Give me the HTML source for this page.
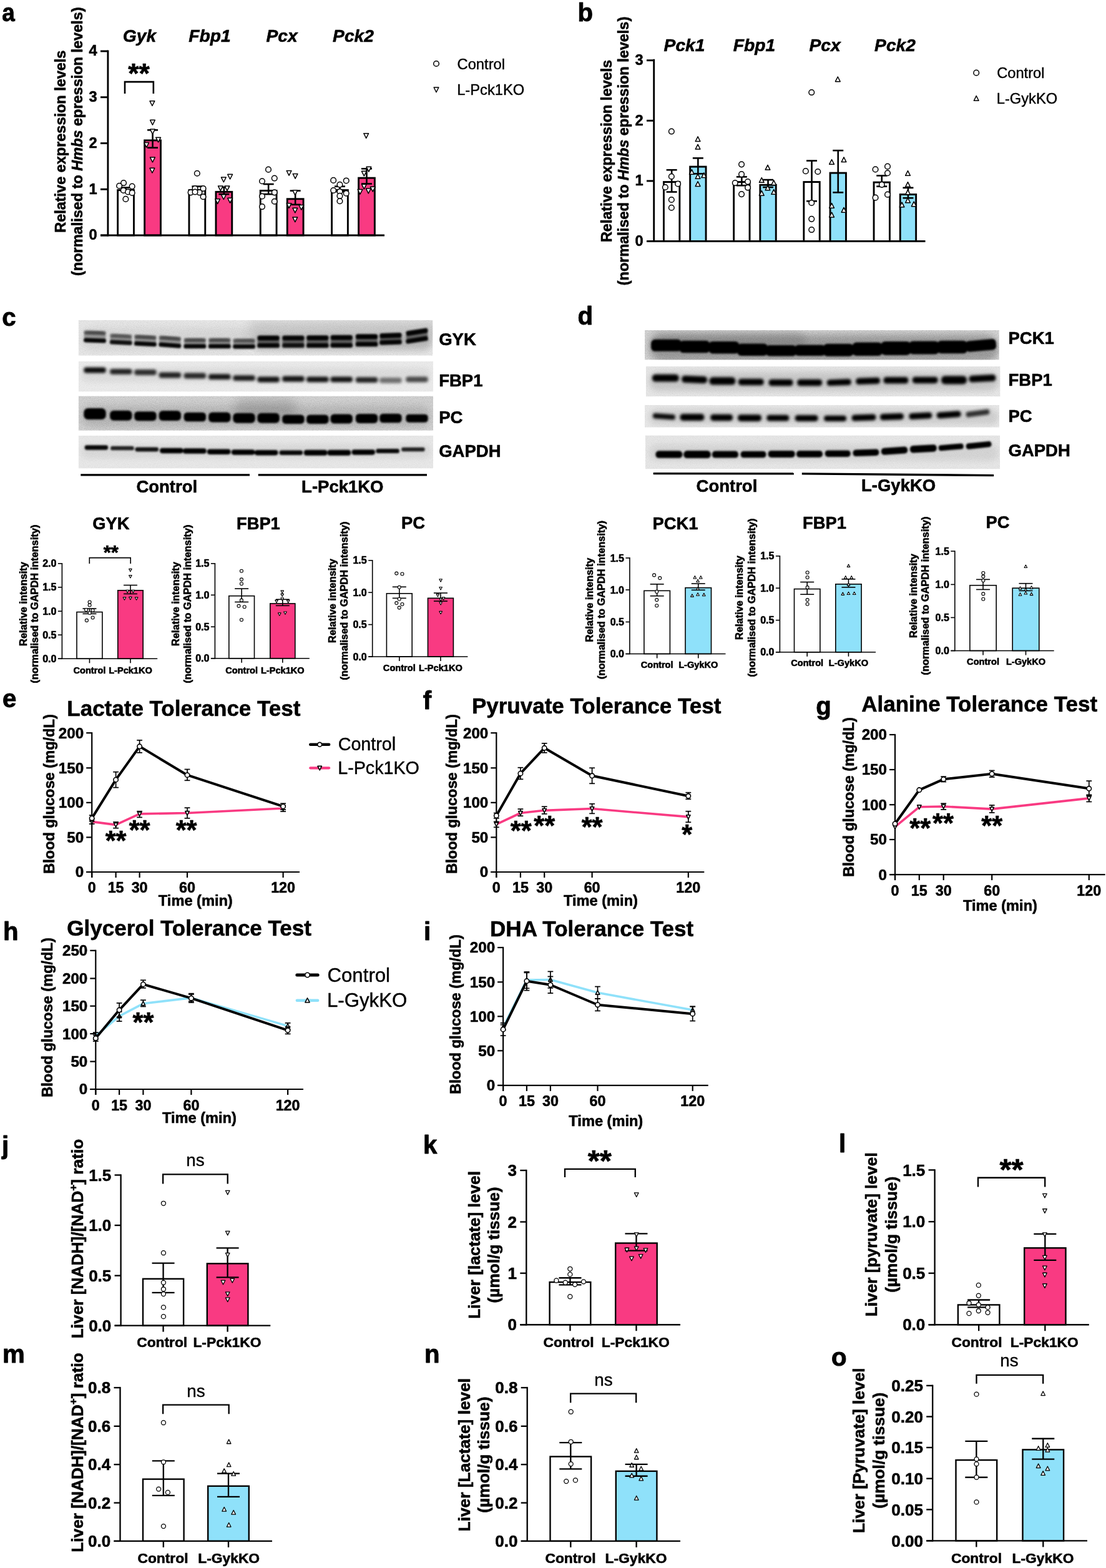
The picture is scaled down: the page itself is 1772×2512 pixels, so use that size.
<!DOCTYPE html>
<html lang="en"><head><meta charset="utf-8"><title>Figure</title>
<style>
html,body{margin:0;padding:0;background:#fff}
svg{display:block}
</style></head><body>
<svg width="1772" height="2512" viewBox="0 0 1772 2512" font-family="'Liberation Sans', Arial, Helvetica, sans-serif" font-weight="bold" text-anchor="middle" fill="#000">
<rect x="0" y="0" width="1772" height="2512" fill="#fff"/>
<g id="panel_a">
<text x="0" y="0" font-size="41" transform="translate(3.20 34.00) scale(0.9 1)" stroke="#000" stroke-width="0.9" stroke-linejoin="round" text-anchor="start">a</text>
<text x="0" y="0" font-size="23.2" transform="translate(104.50 226.70) rotate(-90) scale(1.012 1)" stroke="#000" stroke-width="0.6" stroke-linejoin="round">Relative expression levels</text>
<text x="0" y="0" font-size="23.2" transform="translate(132.00 226.70) rotate(-90) scale(1.012 1)" stroke="#000" stroke-width="0.6" stroke-linejoin="round">(normalised to <tspan font-style="italic">Hmbs</tspan> epression levels)</text>
<rect x="188.65" y="304.58" width="25.80" height="72.42" fill="#fff" stroke="#000" stroke-width="2.9"/>
<rect x="231.65" y="224.86" width="25.80" height="152.14" fill="#F93A82" stroke="#000" stroke-width="2.9"/>
<rect x="302.95" y="304.58" width="25.80" height="72.42" fill="#fff" stroke="#000" stroke-width="2.9"/>
<rect x="345.95" y="307.36" width="25.80" height="69.64" fill="#F93A82" stroke="#000" stroke-width="2.9"/>
<rect x="417.25" y="305.42" width="25.80" height="71.58" fill="#fff" stroke="#000" stroke-width="2.9"/>
<rect x="460.25" y="318.75" width="25.80" height="58.25" fill="#F93A82" stroke="#000" stroke-width="2.9"/>
<rect x="531.55" y="304.58" width="25.80" height="72.42" fill="#fff" stroke="#000" stroke-width="2.9"/>
<rect x="574.55" y="285.14" width="25.80" height="91.86" fill="#F93A82" stroke="#000" stroke-width="2.9"/>
<line x1="201.55" y1="300.56" x2="201.55" y2="306.11" stroke="#000" stroke-width="2.6"/>
<line x1="193.05" y1="300.56" x2="210.05" y2="300.56" stroke="#000" stroke-width="2.6"/>
<line x1="193.05" y1="306.11" x2="210.05" y2="306.11" stroke="#000" stroke-width="2.6"/>
<line x1="244.55" y1="208.33" x2="244.55" y2="236.67" stroke="#000" stroke-width="2.6"/>
<line x1="236.05" y1="208.33" x2="253.05" y2="208.33" stroke="#000" stroke-width="2.6"/>
<line x1="236.05" y1="236.67" x2="253.05" y2="236.67" stroke="#000" stroke-width="2.6"/>
<line x1="315.85" y1="298.61" x2="315.85" y2="306.94" stroke="#000" stroke-width="2.6"/>
<line x1="307.35" y1="298.61" x2="324.35" y2="298.61" stroke="#000" stroke-width="2.6"/>
<line x1="307.35" y1="306.94" x2="324.35" y2="306.94" stroke="#000" stroke-width="2.6"/>
<line x1="358.85" y1="300.00" x2="358.85" y2="311.11" stroke="#000" stroke-width="2.6"/>
<line x1="350.35" y1="300.00" x2="367.35" y2="300.00" stroke="#000" stroke-width="2.6"/>
<line x1="350.35" y1="311.11" x2="367.35" y2="311.11" stroke="#000" stroke-width="2.6"/>
<line x1="430.15" y1="295.00" x2="430.15" y2="311.11" stroke="#000" stroke-width="2.6"/>
<line x1="421.65" y1="295.00" x2="438.65" y2="295.00" stroke="#000" stroke-width="2.6"/>
<line x1="421.65" y1="311.11" x2="438.65" y2="311.11" stroke="#000" stroke-width="2.6"/>
<line x1="473.15" y1="305.56" x2="473.15" y2="327.78" stroke="#000" stroke-width="2.6"/>
<line x1="464.65" y1="305.56" x2="481.65" y2="305.56" stroke="#000" stroke-width="2.6"/>
<line x1="464.65" y1="327.78" x2="481.65" y2="327.78" stroke="#000" stroke-width="2.6"/>
<line x1="544.45" y1="298.61" x2="544.45" y2="306.94" stroke="#000" stroke-width="2.6"/>
<line x1="535.95" y1="298.61" x2="552.95" y2="298.61" stroke="#000" stroke-width="2.6"/>
<line x1="535.95" y1="306.94" x2="552.95" y2="306.94" stroke="#000" stroke-width="2.6"/>
<line x1="587.45" y1="270.28" x2="587.45" y2="294.44" stroke="#000" stroke-width="2.6"/>
<line x1="578.95" y1="270.28" x2="595.95" y2="270.28" stroke="#000" stroke-width="2.6"/>
<line x1="578.95" y1="294.44" x2="595.95" y2="294.44" stroke="#000" stroke-width="2.6"/>
<line x1="172.90" y1="80.55" x2="172.90" y2="378.45" stroke="#000" stroke-width="2.9"/>
<line x1="161.00" y1="377.00" x2="616.00" y2="377.00" stroke="#000" stroke-width="2.9"/>
<line x1="161.00" y1="377.00" x2="172.90" y2="377.00" stroke="#000" stroke-width="2.9"/>
<text x="155.50" y="384.30" font-size="23.6" stroke="#000" stroke-width="0.6" stroke-linejoin="round" text-anchor="end">0</text>
<line x1="161.00" y1="303.25" x2="172.90" y2="303.25" stroke="#000" stroke-width="2.9"/>
<text x="155.50" y="310.55" font-size="23.6" stroke="#000" stroke-width="0.6" stroke-linejoin="round" text-anchor="end">1</text>
<line x1="161.00" y1="229.50" x2="172.90" y2="229.50" stroke="#000" stroke-width="2.9"/>
<text x="155.50" y="236.80" font-size="23.6" stroke="#000" stroke-width="0.6" stroke-linejoin="round" text-anchor="end">2</text>
<line x1="161.00" y1="155.75" x2="172.90" y2="155.75" stroke="#000" stroke-width="2.9"/>
<text x="155.50" y="163.05" font-size="23.6" stroke="#000" stroke-width="0.6" stroke-linejoin="round" text-anchor="end">3</text>
<line x1="161.00" y1="82.00" x2="172.90" y2="82.00" stroke="#000" stroke-width="2.9"/>
<text x="155.50" y="89.30" font-size="23.6" stroke="#000" stroke-width="0.6" stroke-linejoin="round" text-anchor="end">4</text>
<circle cx="198.06" cy="293.06" r="4.3" fill="#fff" stroke="#000" stroke-width="1.5"/>
<circle cx="191.11" cy="297.78" r="4.3" fill="#fff" stroke="#000" stroke-width="1.5"/>
<circle cx="211.67" cy="298.61" r="4.3" fill="#fff" stroke="#000" stroke-width="1.5"/>
<circle cx="197.78" cy="305.00" r="4.3" fill="#fff" stroke="#000" stroke-width="1.5"/>
<circle cx="205.00" cy="307.50" r="4.3" fill="#fff" stroke="#000" stroke-width="1.5"/>
<circle cx="211.67" cy="308.89" r="4.3" fill="#fff" stroke="#000" stroke-width="1.5"/>
<circle cx="201.39" cy="318.89" r="4.3" fill="#fff" stroke="#000" stroke-width="1.5"/>
<circle cx="315.83" cy="277.78" r="4.3" fill="#fff" stroke="#000" stroke-width="1.5"/>
<circle cx="312.50" cy="301.94" r="4.3" fill="#fff" stroke="#000" stroke-width="1.5"/>
<circle cx="305.56" cy="308.33" r="4.3" fill="#fff" stroke="#000" stroke-width="1.5"/>
<circle cx="319.44" cy="308.33" r="4.3" fill="#fff" stroke="#000" stroke-width="1.5"/>
<circle cx="325.56" cy="301.94" r="4.3" fill="#fff" stroke="#000" stroke-width="1.5"/>
<circle cx="312.50" cy="307.50" r="4.3" fill="#fff" stroke="#000" stroke-width="1.5"/>
<circle cx="325.56" cy="315.28" r="4.3" fill="#fff" stroke="#000" stroke-width="1.5"/>
<circle cx="430.00" cy="271.67" r="4.3" fill="#fff" stroke="#000" stroke-width="1.5"/>
<circle cx="439.72" cy="285.56" r="4.3" fill="#fff" stroke="#000" stroke-width="1.5"/>
<circle cx="420.00" cy="290.28" r="4.3" fill="#fff" stroke="#000" stroke-width="1.5"/>
<circle cx="439.72" cy="308.33" r="4.3" fill="#fff" stroke="#000" stroke-width="1.5"/>
<circle cx="420.00" cy="314.44" r="4.3" fill="#fff" stroke="#000" stroke-width="1.5"/>
<circle cx="439.72" cy="322.78" r="4.3" fill="#fff" stroke="#000" stroke-width="1.5"/>
<circle cx="420.00" cy="331.11" r="4.3" fill="#fff" stroke="#000" stroke-width="1.5"/>
<circle cx="534.17" cy="288.89" r="4.3" fill="#fff" stroke="#000" stroke-width="1.5"/>
<circle cx="554.72" cy="289.44" r="4.3" fill="#fff" stroke="#000" stroke-width="1.5"/>
<circle cx="544.44" cy="295.83" r="4.3" fill="#fff" stroke="#000" stroke-width="1.5"/>
<circle cx="534.17" cy="305.00" r="4.3" fill="#fff" stroke="#000" stroke-width="1.5"/>
<circle cx="544.44" cy="306.94" r="4.3" fill="#fff" stroke="#000" stroke-width="1.5"/>
<circle cx="554.72" cy="309.72" r="4.3" fill="#fff" stroke="#000" stroke-width="1.5"/>
<circle cx="544.44" cy="313.89" r="4.3" fill="#fff" stroke="#000" stroke-width="1.5"/>
<circle cx="544.44" cy="322.22" r="4.3" fill="#fff" stroke="#000" stroke-width="1.5"/>
<polygon points="240.04,161.81 247.74,161.81 243.89,169.51" fill="#fff" stroke="#000" stroke-width="1.5" stroke-linejoin="round"/>
<polygon points="240.59,192.37 248.29,192.37 244.44,200.07" fill="#fff" stroke="#000" stroke-width="1.5" stroke-linejoin="round"/>
<polygon points="240.59,207.09 248.29,207.09 244.44,214.79" fill="#fff" stroke="#000" stroke-width="1.5" stroke-linejoin="round"/>
<polygon points="230.87,228.48 238.57,228.48 234.72,236.18" fill="#fff" stroke="#000" stroke-width="1.5" stroke-linejoin="round"/>
<polygon points="249.76,220.15 257.46,220.15 253.61,227.85" fill="#fff" stroke="#000" stroke-width="1.5" stroke-linejoin="round"/>
<polygon points="240.59,252.09 248.29,252.09 244.44,259.79" fill="#fff" stroke="#000" stroke-width="1.5" stroke-linejoin="round"/>
<polygon points="240.04,269.31 247.74,269.31 243.89,277.01" fill="#fff" stroke="#000" stroke-width="1.5" stroke-linejoin="round"/>
<polygon points="364.76,279.31 372.46,279.31 368.61,287.01" fill="#fff" stroke="#000" stroke-width="1.5" stroke-linejoin="round"/>
<polygon points="354.48,284.04 362.18,284.04 358.33,291.74" fill="#fff" stroke="#000" stroke-width="1.5" stroke-linejoin="round"/>
<polygon points="349.48,297.92 357.18,297.92 353.33,305.62" fill="#fff" stroke="#000" stroke-width="1.5" stroke-linejoin="round"/>
<polygon points="360.04,297.92 367.74,297.92 363.89,305.62" fill="#fff" stroke="#000" stroke-width="1.5" stroke-linejoin="round"/>
<polygon points="354.48,311.81 362.18,311.81 358.33,319.51" fill="#fff" stroke="#000" stroke-width="1.5" stroke-linejoin="round"/>
<polygon points="344.76,318.76 352.46,318.76 348.61,326.46" fill="#fff" stroke="#000" stroke-width="1.5" stroke-linejoin="round"/>
<polygon points="364.76,317.37 372.46,317.37 368.61,325.07" fill="#fff" stroke="#000" stroke-width="1.5" stroke-linejoin="round"/>
<polygon points="459.21,273.48 466.91,273.48 463.06,281.18" fill="#fff" stroke="#000" stroke-width="1.5" stroke-linejoin="round"/>
<polygon points="469.21,278.48 476.91,278.48 473.06,286.18" fill="#fff" stroke="#000" stroke-width="1.5" stroke-linejoin="round"/>
<polygon points="468.93,304.87 476.63,304.87 472.78,312.57" fill="#fff" stroke="#000" stroke-width="1.5" stroke-linejoin="round"/>
<polygon points="459.21,325.70 466.91,325.70 463.06,333.40" fill="#fff" stroke="#000" stroke-width="1.5" stroke-linejoin="round"/>
<polygon points="478.93,328.48 486.63,328.48 482.78,336.18" fill="#fff" stroke="#000" stroke-width="1.5" stroke-linejoin="round"/>
<polygon points="468.93,333.20 476.63,333.20 472.78,340.90" fill="#fff" stroke="#000" stroke-width="1.5" stroke-linejoin="round"/>
<polygon points="468.93,347.92 476.63,347.92 472.78,355.62" fill="#fff" stroke="#000" stroke-width="1.5" stroke-linejoin="round"/>
<polygon points="582.82,213.76 590.52,213.76 586.67,221.46" fill="#fff" stroke="#000" stroke-width="1.5" stroke-linejoin="round"/>
<polygon points="586.98,267.37 594.68,267.37 590.83,275.07" fill="#fff" stroke="#000" stroke-width="1.5" stroke-linejoin="round"/>
<polygon points="579.48,274.31 587.18,274.31 583.33,282.01" fill="#fff" stroke="#000" stroke-width="1.5" stroke-linejoin="round"/>
<polygon points="579.48,295.15 587.18,295.15 583.33,302.85" fill="#fff" stroke="#000" stroke-width="1.5" stroke-linejoin="round"/>
<polygon points="593.37,299.31 601.07,299.31 597.22,307.01" fill="#fff" stroke="#000" stroke-width="1.5" stroke-linejoin="round"/>
<polygon points="573.09,303.48 580.79,303.48 576.94,311.18" fill="#fff" stroke="#000" stroke-width="1.5" stroke-linejoin="round"/>
<polygon points="586.43,302.09 594.13,302.09 590.28,309.79" fill="#fff" stroke="#000" stroke-width="1.5" stroke-linejoin="round"/>
<text x="223.50" y="66.50" font-size="28.2" stroke="#000" stroke-width="0.6" stroke-linejoin="round" font-style="italic">Gyk</text>
<text x="336.00" y="66.50" font-size="28.2" stroke="#000" stroke-width="0.6" stroke-linejoin="round" font-style="italic">Fbp1</text>
<text x="451.50" y="66.50" font-size="28.2" stroke="#000" stroke-width="0.6" stroke-linejoin="round" font-style="italic">Pcx</text>
<text x="566.00" y="66.50" font-size="28.2" stroke="#000" stroke-width="0.6" stroke-linejoin="round" font-style="italic">Pck2</text>
<polyline points="200.00,150.00 200.00,131.11 245.83,131.11 245.83,150.00" fill="none" stroke="#000" stroke-width="2.6"/>
<text x="222.50" y="133.31" font-size="44.5" stroke="#000" stroke-width="0.7" stroke-linejoin="round">**</text>
<circle cx="699.00" cy="102.00" r="4.3" fill="#fff" stroke="#000" stroke-width="1.5"/>
<polygon points="695.15,140.03 702.85,140.03 699.00,147.74" fill="#fff" stroke="#000" stroke-width="1.5" stroke-linejoin="round"/>
<text x="732.60" y="111.00" font-size="23.7" stroke="#000" stroke-width="0.4" stroke-linejoin="round" font-weight="normal" text-anchor="start">Control</text>
<text x="732.20" y="151.50" font-size="23.7" stroke="#000" stroke-width="0.4" stroke-linejoin="round" font-weight="normal" text-anchor="start">L-Pck1KO</text>
</g>
<g id="panel_b">
<text x="0" y="0" font-size="41" transform="translate(925.50 34.00) scale(0.98 1)" stroke="#000" stroke-width="0.9" stroke-linejoin="round" text-anchor="start">b</text>
<text x="0" y="0" font-size="23.2" transform="translate(980.00 242.00) rotate(-90) scale(1.012 1)" stroke="#000" stroke-width="0.6" stroke-linejoin="round">Relative expression levels</text>
<text x="0" y="0" font-size="23.2" transform="translate(1007.00 242.00) rotate(-90) scale(1.012 1)" stroke="#000" stroke-width="0.6" stroke-linejoin="round">(normalised to <tspan font-style="italic">Hmbs</tspan> epression levels)</text>
<rect x="1063.45" y="291.53" width="25.40" height="94.97" fill="#fff" stroke="#000" stroke-width="2.9"/>
<rect x="1105.65" y="267.08" width="25.40" height="119.42" fill="#8FE1FA" stroke="#000" stroke-width="2.9"/>
<rect x="1175.65" y="291.53" width="25.40" height="94.97" fill="#fff" stroke="#000" stroke-width="2.9"/>
<rect x="1217.85" y="296.25" width="25.40" height="90.25" fill="#8FE1FA" stroke="#000" stroke-width="2.9"/>
<rect x="1287.85" y="291.53" width="25.40" height="94.97" fill="#fff" stroke="#000" stroke-width="2.9"/>
<rect x="1330.05" y="277.08" width="25.40" height="109.42" fill="#8FE1FA" stroke="#000" stroke-width="2.9"/>
<rect x="1400.05" y="292.08" width="25.40" height="94.42" fill="#fff" stroke="#000" stroke-width="2.9"/>
<rect x="1442.25" y="311.53" width="25.40" height="74.97" fill="#8FE1FA" stroke="#000" stroke-width="2.9"/>
<line x1="1076.15" y1="272.22" x2="1076.15" y2="307.50" stroke="#000" stroke-width="2.6"/>
<line x1="1067.65" y1="272.22" x2="1084.65" y2="272.22" stroke="#000" stroke-width="2.6"/>
<line x1="1067.65" y1="307.50" x2="1084.65" y2="307.50" stroke="#000" stroke-width="2.6"/>
<line x1="1118.35" y1="253.33" x2="1118.35" y2="278.33" stroke="#000" stroke-width="2.6"/>
<line x1="1109.85" y1="253.33" x2="1126.85" y2="253.33" stroke="#000" stroke-width="2.6"/>
<line x1="1109.85" y1="278.33" x2="1126.85" y2="278.33" stroke="#000" stroke-width="2.6"/>
<line x1="1188.35" y1="283.33" x2="1188.35" y2="297.22" stroke="#000" stroke-width="2.6"/>
<line x1="1179.85" y1="283.33" x2="1196.85" y2="283.33" stroke="#000" stroke-width="2.6"/>
<line x1="1179.85" y1="297.22" x2="1196.85" y2="297.22" stroke="#000" stroke-width="2.6"/>
<line x1="1230.55" y1="288.06" x2="1230.55" y2="300.00" stroke="#000" stroke-width="2.6"/>
<line x1="1222.05" y1="288.06" x2="1239.05" y2="288.06" stroke="#000" stroke-width="2.6"/>
<line x1="1222.05" y1="300.00" x2="1239.05" y2="300.00" stroke="#000" stroke-width="2.6"/>
<line x1="1300.55" y1="257.50" x2="1300.55" y2="322.22" stroke="#000" stroke-width="2.6"/>
<line x1="1292.05" y1="257.50" x2="1309.05" y2="257.50" stroke="#000" stroke-width="2.6"/>
<line x1="1292.05" y1="322.22" x2="1309.05" y2="322.22" stroke="#000" stroke-width="2.6"/>
<line x1="1342.75" y1="241.11" x2="1342.75" y2="308.33" stroke="#000" stroke-width="2.6"/>
<line x1="1334.25" y1="241.11" x2="1351.25" y2="241.11" stroke="#000" stroke-width="2.6"/>
<line x1="1334.25" y1="308.33" x2="1351.25" y2="308.33" stroke="#000" stroke-width="2.6"/>
<line x1="1412.75" y1="281.39" x2="1412.75" y2="298.61" stroke="#000" stroke-width="2.6"/>
<line x1="1404.25" y1="281.39" x2="1421.25" y2="281.39" stroke="#000" stroke-width="2.6"/>
<line x1="1404.25" y1="298.61" x2="1421.25" y2="298.61" stroke="#000" stroke-width="2.6"/>
<line x1="1454.95" y1="300.83" x2="1454.95" y2="317.22" stroke="#000" stroke-width="2.6"/>
<line x1="1446.45" y1="300.83" x2="1463.45" y2="300.83" stroke="#000" stroke-width="2.6"/>
<line x1="1446.45" y1="317.22" x2="1463.45" y2="317.22" stroke="#000" stroke-width="2.6"/>
<line x1="1047.70" y1="94.85" x2="1047.70" y2="387.95" stroke="#000" stroke-width="2.9"/>
<line x1="1036.00" y1="386.50" x2="1482.50" y2="386.50" stroke="#000" stroke-width="2.9"/>
<line x1="1036.00" y1="386.50" x2="1047.70" y2="386.50" stroke="#000" stroke-width="2.9"/>
<text x="1030.50" y="393.80" font-size="23.6" stroke="#000" stroke-width="0.6" stroke-linejoin="round" text-anchor="end">0</text>
<line x1="1036.00" y1="289.90" x2="1047.70" y2="289.90" stroke="#000" stroke-width="2.9"/>
<text x="1030.50" y="297.20" font-size="23.6" stroke="#000" stroke-width="0.6" stroke-linejoin="round" text-anchor="end">1</text>
<line x1="1036.00" y1="193.30" x2="1047.70" y2="193.30" stroke="#000" stroke-width="2.9"/>
<text x="1030.50" y="200.60" font-size="23.6" stroke="#000" stroke-width="0.6" stroke-linejoin="round" text-anchor="end">2</text>
<line x1="1036.00" y1="96.70" x2="1047.70" y2="96.70" stroke="#000" stroke-width="2.9"/>
<text x="1030.50" y="104.00" font-size="23.6" stroke="#000" stroke-width="0.6" stroke-linejoin="round" text-anchor="end">3</text>
<circle cx="1075.83" cy="210.56" r="4.3" fill="#fff" stroke="#000" stroke-width="1.5"/>
<circle cx="1075.83" cy="282.78" r="4.3" fill="#fff" stroke="#000" stroke-width="1.5"/>
<circle cx="1065.83" cy="300.00" r="4.3" fill="#fff" stroke="#000" stroke-width="1.5"/>
<circle cx="1086.11" cy="294.44" r="4.3" fill="#fff" stroke="#000" stroke-width="1.5"/>
<circle cx="1075.83" cy="320.00" r="4.3" fill="#fff" stroke="#000" stroke-width="1.5"/>
<circle cx="1075.83" cy="332.78" r="4.3" fill="#fff" stroke="#000" stroke-width="1.5"/>
<circle cx="1188.06" cy="263.33" r="4.3" fill="#fff" stroke="#000" stroke-width="1.5"/>
<circle cx="1188.06" cy="279.17" r="4.3" fill="#fff" stroke="#000" stroke-width="1.5"/>
<circle cx="1177.78" cy="293.06" r="4.3" fill="#fff" stroke="#000" stroke-width="1.5"/>
<circle cx="1198.06" cy="291.11" r="4.3" fill="#fff" stroke="#000" stroke-width="1.5"/>
<circle cx="1198.06" cy="300.56" r="4.3" fill="#fff" stroke="#000" stroke-width="1.5"/>
<circle cx="1188.06" cy="311.11" r="4.3" fill="#fff" stroke="#000" stroke-width="1.5"/>
<circle cx="1300.28" cy="148.06" r="4.3" fill="#fff" stroke="#000" stroke-width="1.5"/>
<circle cx="1290.83" cy="274.17" r="4.3" fill="#fff" stroke="#000" stroke-width="1.5"/>
<circle cx="1310.28" cy="275.00" r="4.3" fill="#fff" stroke="#000" stroke-width="1.5"/>
<circle cx="1300.28" cy="325.00" r="4.3" fill="#fff" stroke="#000" stroke-width="1.5"/>
<circle cx="1300.28" cy="350.83" r="4.3" fill="#fff" stroke="#000" stroke-width="1.5"/>
<circle cx="1300.28" cy="368.06" r="4.3" fill="#fff" stroke="#000" stroke-width="1.5"/>
<circle cx="1402.56" cy="271.39" r="4.3" fill="#fff" stroke="#000" stroke-width="1.5"/>
<circle cx="1422.00" cy="266.67" r="4.3" fill="#fff" stroke="#000" stroke-width="1.5"/>
<circle cx="1422.00" cy="277.22" r="4.3" fill="#fff" stroke="#000" stroke-width="1.5"/>
<circle cx="1412.83" cy="295.83" r="4.3" fill="#fff" stroke="#000" stroke-width="1.5"/>
<circle cx="1422.00" cy="311.67" r="4.3" fill="#fff" stroke="#000" stroke-width="1.5"/>
<circle cx="1402.56" cy="316.67" r="4.3" fill="#fff" stroke="#000" stroke-width="1.5"/>
<polygon points="1114.21,226.52 1121.91,226.52 1118.06,218.82" fill="#fff" stroke="#000" stroke-width="1.5" stroke-linejoin="round"/>
<polygon points="1114.21,239.02 1121.91,239.02 1118.06,231.32" fill="#fff" stroke="#000" stroke-width="1.5" stroke-linejoin="round"/>
<polygon points="1104.48,279.30 1112.18,279.30 1108.33,271.60" fill="#fff" stroke="#000" stroke-width="1.5" stroke-linejoin="round"/>
<polygon points="1114.21,286.24 1121.91,286.24 1118.06,278.54" fill="#fff" stroke="#000" stroke-width="1.5" stroke-linejoin="round"/>
<polygon points="1123.93,284.58 1131.63,284.58 1127.78,276.88" fill="#fff" stroke="#000" stroke-width="1.5" stroke-linejoin="round"/>
<polygon points="1114.21,298.46 1121.91,298.46 1118.06,290.76" fill="#fff" stroke="#000" stroke-width="1.5" stroke-linejoin="round"/>
<polygon points="1226.15,272.08 1233.85,272.08 1230.00,264.38" fill="#fff" stroke="#000" stroke-width="1.5" stroke-linejoin="round"/>
<polygon points="1216.43,292.35 1224.13,292.35 1220.28,284.65" fill="#fff" stroke="#000" stroke-width="1.5" stroke-linejoin="round"/>
<polygon points="1235.87,296.52 1243.57,296.52 1239.72,288.82" fill="#fff" stroke="#000" stroke-width="1.5" stroke-linejoin="round"/>
<polygon points="1226.15,304.85 1233.85,304.85 1230.00,297.15" fill="#fff" stroke="#000" stroke-width="1.5" stroke-linejoin="round"/>
<polygon points="1216.43,313.19 1224.13,313.19 1220.28,305.49" fill="#fff" stroke="#000" stroke-width="1.5" stroke-linejoin="round"/>
<polygon points="1235.87,311.24 1243.57,311.24 1239.72,303.54" fill="#fff" stroke="#000" stroke-width="1.5" stroke-linejoin="round"/>
<polygon points="1338.43,130.69 1346.13,130.69 1342.28,122.99" fill="#fff" stroke="#000" stroke-width="1.5" stroke-linejoin="round"/>
<polygon points="1328.71,263.19 1336.41,263.19 1332.56,255.49" fill="#fff" stroke="#000" stroke-width="1.5" stroke-linejoin="round"/>
<polygon points="1348.15,259.58 1355.85,259.58 1352.00,251.88" fill="#fff" stroke="#000" stroke-width="1.5" stroke-linejoin="round"/>
<polygon points="1328.71,333.19 1336.41,333.19 1332.56,325.49" fill="#fff" stroke="#000" stroke-width="1.5" stroke-linejoin="round"/>
<polygon points="1348.15,340.13 1355.85,340.13 1352.00,332.43" fill="#fff" stroke="#000" stroke-width="1.5" stroke-linejoin="round"/>
<polygon points="1328.71,347.91 1336.41,347.91 1332.56,340.21" fill="#fff" stroke="#000" stroke-width="1.5" stroke-linejoin="round"/>
<polygon points="1450.65,281.24 1458.35,281.24 1454.50,273.54" fill="#fff" stroke="#000" stroke-width="1.5" stroke-linejoin="round"/>
<polygon points="1450.65,299.30 1458.35,299.30 1454.50,291.60" fill="#fff" stroke="#000" stroke-width="1.5" stroke-linejoin="round"/>
<polygon points="1450.65,311.80 1458.35,311.80 1454.50,304.10" fill="#fff" stroke="#000" stroke-width="1.5" stroke-linejoin="round"/>
<polygon points="1450.65,324.85 1458.35,324.85 1454.50,317.15" fill="#fff" stroke="#000" stroke-width="1.5" stroke-linejoin="round"/>
<polygon points="1441.21,331.80 1448.91,331.80 1445.06,324.10" fill="#fff" stroke="#000" stroke-width="1.5" stroke-linejoin="round"/>
<polygon points="1460.37,330.69 1468.07,330.69 1464.22,322.99" fill="#fff" stroke="#000" stroke-width="1.5" stroke-linejoin="round"/>
<text x="1096.50" y="81.50" font-size="28.2" stroke="#000" stroke-width="0.6" stroke-linejoin="round" font-style="italic">Pck1</text>
<text x="1208.50" y="81.50" font-size="28.2" stroke="#000" stroke-width="0.6" stroke-linejoin="round" font-style="italic">Fbp1</text>
<text x="1321.50" y="81.50" font-size="28.2" stroke="#000" stroke-width="0.6" stroke-linejoin="round" font-style="italic">Pcx</text>
<text x="1434.00" y="81.50" font-size="28.2" stroke="#000" stroke-width="0.6" stroke-linejoin="round" font-style="italic">Pck2</text>
<circle cx="1564.22" cy="116.67" r="4.3" fill="#fff" stroke="#000" stroke-width="1.5"/>
<polygon points="1560.37,161.24 1568.07,161.24 1564.22,153.54" fill="#fff" stroke="#000" stroke-width="1.5" stroke-linejoin="round"/>
<text x="1597.16" y="125.00" font-size="23.7" stroke="#000" stroke-width="0.4" stroke-linejoin="round" font-weight="normal" text-anchor="start">Control</text>
<text x="1596.76" y="165.83" font-size="23.7" stroke="#000" stroke-width="0.4" stroke-linejoin="round" font-weight="normal" text-anchor="start">L-GykKO</text>
</g>
<g id="panel_c_blots">
<defs>
<filter id="bl1" x="-40%" y="-80%" width="180%" height="260%"><feGaussianBlur stdDeviation="1.0"/></filter>
<filter id="bl1.3" x="-40%" y="-80%" width="180%" height="260%"><feGaussianBlur stdDeviation="1.3"/></filter>
<filter id="bl1.6" x="-40%" y="-80%" width="180%" height="260%"><feGaussianBlur stdDeviation="1.6"/></filter>
<filter id="bl1.8" x="-40%" y="-80%" width="180%" height="260%"><feGaussianBlur stdDeviation="1.8"/></filter>
<filter id="bl2" x="-40%" y="-80%" width="180%" height="260%"><feGaussianBlur stdDeviation="2.0"/></filter>
<filter id="bl2.5" x="-40%" y="-80%" width="180%" height="260%"><feGaussianBlur stdDeviation="2.5"/></filter>
<filter id="bl3" x="-40%" y="-80%" width="180%" height="260%"><feGaussianBlur stdDeviation="3.0"/></filter>
<filter id="bl4" x="-40%" y="-80%" width="180%" height="260%"><feGaussianBlur stdDeviation="4.0"/></filter>
<filter id="bl5" x="-40%" y="-80%" width="180%" height="260%"><feGaussianBlur stdDeviation="5.0"/></filter>
<filter id="bl6" x="-40%" y="-80%" width="180%" height="260%"><feGaussianBlur stdDeviation="6.0"/></filter>
<filter id="bl8" x="-40%" y="-80%" width="180%" height="260%"><feGaussianBlur stdDeviation="8.0"/></filter>
<filter id="grain" x="0" y="0" width="100%" height="100%"><feTurbulence type="fractalNoise" baseFrequency="0.75" numOctaves="2" seed="7"/><feColorMatrix type="matrix" values="0 0 0 0 0  0 0 0 0 0  0 0 0 0 0  1.6 0 0 0 -0.55"/></filter>
</defs>
<clipPath id="bc1"><rect x="125.70" y="512.70" width="567.70" height="57.00"/></clipPath>
<g clip-path="url(#bc1)" stroke="none">
<rect x="125.70" y="512.70" width="567.70" height="57.00" fill="#e9e9e9"/>
<rect x="395.00" y="516.00" width="310.00" height="34.00" rx="17.0" fill="#000" opacity="0.13" filter="url(#bl8)"/>
<rect x="130.00" y="525.00" width="270.00" height="36.00" rx="18.0" fill="#000" opacity="0.06" filter="url(#bl6)"/>
<rect x="405.00" y="538.00" width="285.00" height="24.00" rx="12.0" fill="#000" opacity="0.14" filter="url(#bl5)"/>
<rect x="125.70" y="512.70" width="567.70" height="57.00" fill="#000" opacity="0.1" filter="url(#grain)"/>
<g filter="url(#bl1.8)">
<rect x="134.50" y="530.50" width="35.00" height="17.40" rx="7.83" fill="#000" opacity="0.3" transform="rotate(2 152.00 539.20)"/>
<rect x="134.25" y="529.75" width="35.50" height="6.50" rx="2.93" fill="#000" opacity="0.5" transform="rotate(2 152.00 533.00)"/>
<rect x="134.00" y="541.90" width="36.00" height="7.00" rx="3.15" fill="#000" opacity="0.97" transform="rotate(2 152.00 545.40)"/>
<rect x="176.30" y="535.80" width="35.00" height="15.50" rx="6.98" fill="#000" opacity="0.3" transform="rotate(3 193.80 543.55)"/>
<rect x="176.05" y="535.05" width="35.50" height="6.50" rx="2.93" fill="#000" opacity="0.42" transform="rotate(3 193.80 538.30)"/>
<rect x="175.80" y="545.30" width="36.00" height="7.00" rx="3.15" fill="#000" opacity="0.9" transform="rotate(3 193.80 548.80)"/>
<rect x="215.40" y="537.50" width="35.00" height="16.00" rx="7.20" fill="#000" opacity="0.3" transform="rotate(3 232.90 545.50)"/>
<rect x="215.15" y="536.75" width="35.50" height="6.50" rx="2.93" fill="#000" opacity="0.5" transform="rotate(3 232.90 540.00)"/>
<rect x="214.90" y="547.50" width="36.00" height="7.00" rx="3.15" fill="#000" opacity="0.97" transform="rotate(3 232.90 551.00)"/>
<rect x="254.80" y="539.20" width="35.00" height="16.40" rx="7.38" fill="#000" opacity="0.3" transform="rotate(4 272.30 547.40)"/>
<rect x="254.55" y="538.45" width="35.50" height="6.50" rx="2.93" fill="#000" opacity="0.5" transform="rotate(4 272.30 541.70)"/>
<rect x="254.30" y="549.60" width="36.00" height="7.00" rx="3.15" fill="#000" opacity="0.97" transform="rotate(4 272.30 553.10)"/>
<rect x="294.80" y="542.30" width="35.00" height="15.00" rx="6.75" fill="#000" opacity="0.3"/>
<rect x="294.55" y="541.55" width="35.50" height="6.50" rx="2.93" fill="#000" opacity="0.5"/>
<rect x="294.30" y="551.30" width="36.00" height="7.00" rx="3.15" fill="#000" opacity="0.97"/>
<rect x="334.30" y="542.30" width="35.00" height="15.00" rx="6.75" fill="#000" opacity="0.3"/>
<rect x="334.05" y="541.55" width="35.50" height="6.50" rx="2.93" fill="#000" opacity="0.5"/>
<rect x="333.80" y="551.30" width="36.00" height="7.00" rx="3.15" fill="#000" opacity="0.97"/>
<rect x="373.50" y="543.00" width="35.00" height="14.70" rx="6.62" fill="#000" opacity="0.3"/>
<rect x="373.25" y="542.25" width="35.50" height="6.50" rx="2.93" fill="#000" opacity="0.45"/>
<rect x="373.00" y="551.70" width="36.00" height="7.00" rx="3.15" fill="#000" opacity="0.95"/>
<rect x="412.60" y="539.10" width="35.00" height="17.00" rx="7.65" fill="#000" opacity="0.45"/>
<rect x="412.35" y="537.60" width="35.50" height="8.00" rx="3.60" fill="#000" opacity="0.97"/>
<rect x="412.10" y="549.85" width="36.00" height="7.50" rx="3.38" fill="#000" opacity="0.95"/>
<rect x="452.40" y="539.10" width="35.00" height="17.00" rx="7.65" fill="#000" opacity="0.45"/>
<rect x="452.15" y="537.60" width="35.50" height="8.00" rx="3.60" fill="#000" opacity="0.95"/>
<rect x="451.90" y="549.85" width="36.00" height="7.50" rx="3.38" fill="#000" opacity="0.85"/>
<rect x="491.30" y="538.70" width="35.00" height="17.40" rx="7.83" fill="#000" opacity="0.45"/>
<rect x="491.05" y="537.20" width="35.50" height="8.00" rx="3.60" fill="#000" opacity="0.97"/>
<rect x="490.80" y="549.85" width="36.00" height="7.50" rx="3.38" fill="#000" opacity="0.95"/>
<rect x="529.70" y="538.30" width="35.00" height="17.40" rx="7.83" fill="#000" opacity="0.45"/>
<rect x="529.45" y="536.80" width="35.50" height="8.00" rx="3.60" fill="#000" opacity="0.97"/>
<rect x="529.20" y="549.45" width="36.00" height="7.50" rx="3.38" fill="#000" opacity="0.95"/>
<rect x="570.00" y="536.80" width="35.00" height="17.30" rx="7.79" fill="#000" opacity="0.45"/>
<rect x="569.75" y="535.30" width="35.50" height="8.00" rx="3.60" fill="#000"/>
<rect x="569.50" y="547.85" width="36.00" height="7.50" rx="3.38" fill="#000" opacity="0.97"/>
<rect x="608.40" y="534.90" width="35.00" height="16.20" rx="7.29" fill="#000" opacity="0.45" transform="rotate(-2 625.90 543.00)"/>
<rect x="608.15" y="533.40" width="35.50" height="8.00" rx="3.60" fill="#000" opacity="0.97" transform="rotate(-2 625.90 537.40)"/>
<rect x="607.90" y="544.85" width="36.00" height="7.50" rx="3.38" fill="#000" opacity="0.95" transform="rotate(-2 625.90 548.60)"/>
<rect x="650.50" y="529.30" width="35.00" height="17.80" rx="8.01" fill="#000" opacity="0.45" transform="rotate(-9 668.00 538.20)"/>
<rect x="650.25" y="527.80" width="35.50" height="8.00" rx="3.60" fill="#000" opacity="0.97" transform="rotate(-9 668.00 531.80)"/>
<rect x="650.00" y="540.85" width="36.00" height="7.50" rx="3.38" fill="#000" opacity="0.97" transform="rotate(-9 668.00 544.60)"/>
</g></g>
<clipPath id="bc2"><rect x="125.70" y="578.70" width="568.30" height="48.80"/></clipPath>
<g clip-path="url(#bc2)" stroke="none">
<rect x="125.70" y="578.70" width="568.30" height="48.80" fill="#ececec"/>
<rect x="130.00" y="590.00" width="560.00" height="22.00" rx="11.0" fill="#000" opacity="0.06" filter="url(#bl5)"/>
<rect x="125.70" y="578.70" width="568.30" height="48.80" fill="#000" opacity="0.06" filter="url(#grain)"/>
<g filter="url(#bl2)">
<rect x="134.25" y="588.60" width="35.50" height="8.80" rx="3.96" fill="#000" opacity="0.95"/>
<rect x="176.05" y="591.00" width="35.50" height="8.80" rx="3.96" fill="#000" opacity="0.85"/>
<rect x="215.15" y="592.10" width="35.50" height="8.80" rx="3.96" fill="#000" opacity="0.8"/>
<rect x="254.55" y="596.60" width="35.50" height="8.80" rx="3.96" fill="#000" opacity="0.85"/>
<rect x="294.55" y="597.60" width="35.50" height="8.80" rx="3.96" fill="#000" opacity="0.82"/>
<rect x="334.05" y="599.30" width="35.50" height="8.80" rx="3.96" fill="#000" opacity="0.9"/>
<rect x="373.25" y="601.20" width="35.50" height="8.80" rx="3.96" fill="#000" opacity="0.88"/>
<rect x="412.35" y="603.60" width="35.50" height="8.80" rx="3.96" fill="#000" opacity="0.92"/>
<rect x="452.15" y="602.60" width="35.50" height="8.80" rx="3.96" fill="#000" opacity="0.92"/>
<rect x="491.05" y="603.40" width="35.50" height="8.80" rx="3.96" fill="#000" opacity="0.92"/>
<rect x="529.45" y="603.40" width="35.50" height="8.80" rx="3.96" fill="#000" opacity="0.92"/>
<rect x="569.75" y="604.20" width="35.50" height="8.80" rx="3.96" fill="#000" opacity="0.85"/>
<rect x="608.15" y="604.90" width="35.50" height="8.80" rx="3.96" fill="#000" opacity="0.5"/>
<rect x="650.25" y="603.40" width="35.50" height="8.80" rx="3.96" fill="#000" opacity="0.68"/>
</g></g>
<clipPath id="bc3"><rect x="125.70" y="634.40" width="568.30" height="55.40"/></clipPath>
<g clip-path="url(#bc3)" stroke="none">
<rect x="125.70" y="634.40" width="568.30" height="55.40" fill="#d6d6d6"/>
<rect x="130.00" y="650.00" width="560.00" height="34.00" rx="17.0" fill="#000" opacity="0.12" filter="url(#bl6)"/>
<rect x="375.00" y="638.00" width="100.00" height="30.00" rx="15.0" fill="#000" opacity="0.14" filter="url(#bl8)"/>
<rect x="125.70" y="634.40" width="568.30" height="55.40" fill="#000" opacity="0.16" filter="url(#grain)"/>
<g filter="url(#bl1.8)">
<rect x="134.25" y="654.00" width="35.50" height="18.00" rx="6.84" fill="#000"/>
<rect x="176.05" y="657.70" width="35.50" height="16.00" rx="6.08" fill="#000"/>
<rect x="215.15" y="659.20" width="35.50" height="15.00" rx="5.70" fill="#000"/>
<rect x="254.55" y="658.00" width="35.50" height="16.00" rx="6.08" fill="#000"/>
<rect x="294.55" y="660.75" width="35.50" height="14.50" rx="5.51" fill="#000"/>
<rect x="334.05" y="660.50" width="35.50" height="16.00" rx="6.08" fill="#000"/>
<rect x="373.25" y="661.80" width="35.50" height="16.00" rx="6.08" fill="#000"/>
<rect x="412.35" y="661.80" width="35.50" height="16.00" rx="6.08" fill="#000"/>
<rect x="452.15" y="664.45" width="35.50" height="14.50" rx="5.51" fill="#000"/>
<rect x="491.05" y="664.45" width="35.50" height="14.50" rx="5.51" fill="#000"/>
<rect x="529.45" y="663.50" width="35.50" height="15.00" rx="5.70" fill="#000"/>
<rect x="569.75" y="662.90" width="35.50" height="15.00" rx="5.70" fill="#000"/>
<rect x="608.15" y="662.75" width="35.50" height="14.50" rx="5.51" fill="#000"/>
<rect x="650.25" y="663.70" width="35.50" height="13.00" rx="4.94" fill="#000"/>
<rect x="135.50" y="655.00" width="33.00" height="16.00" rx="6.08" fill="#000"/>
<rect x="177.30" y="658.70" width="33.00" height="14.00" rx="5.32" fill="#000"/>
<rect x="216.40" y="660.20" width="33.00" height="13.00" rx="4.94" fill="#000"/>
<rect x="255.80" y="659.00" width="33.00" height="14.00" rx="5.32" fill="#000"/>
<rect x="295.80" y="661.75" width="33.00" height="12.50" rx="4.75" fill="#000"/>
<rect x="335.30" y="661.50" width="33.00" height="14.00" rx="5.32" fill="#000"/>
<rect x="374.50" y="662.80" width="33.00" height="14.00" rx="5.32" fill="#000"/>
<rect x="413.60" y="662.80" width="33.00" height="14.00" rx="5.32" fill="#000"/>
<rect x="453.40" y="665.45" width="33.00" height="12.50" rx="4.75" fill="#000"/>
<rect x="492.30" y="665.45" width="33.00" height="12.50" rx="4.75" fill="#000"/>
<rect x="530.70" y="664.50" width="33.00" height="13.00" rx="4.94" fill="#000"/>
<rect x="571.00" y="663.90" width="33.00" height="13.00" rx="4.94" fill="#000"/>
<rect x="609.40" y="663.75" width="33.00" height="12.50" rx="4.75" fill="#000"/>
<rect x="651.50" y="664.70" width="33.00" height="11.00" rx="4.18" fill="#000"/>
</g></g>
<clipPath id="bc4"><rect x="125.70" y="697.80" width="568.30" height="52.70"/></clipPath>
<g clip-path="url(#bc4)" stroke="none">
<rect x="125.70" y="697.80" width="568.30" height="52.70" fill="#e9e9e9"/>
<rect x="130.00" y="712.00" width="560.00" height="22.00" rx="11.0" fill="#000" opacity="0.06" filter="url(#bl5)"/>
<rect x="125.70" y="697.80" width="568.30" height="52.70" fill="#000" opacity="0.06" filter="url(#grain)"/>
<g filter="url(#bl1.6)">
<rect x="135.65" y="713.25" width="37.50" height="7.50" rx="3.38" fill="#000" opacity="0.97"/>
<rect x="177.15" y="714.85" width="37.50" height="6.50" rx="2.93" fill="#000" opacity="0.85"/>
<rect x="216.45" y="716.50" width="37.50" height="7.00" rx="3.15" fill="#000" opacity="0.92"/>
<rect x="256.05" y="717.65" width="37.50" height="8.50" rx="3.83" fill="#000"/>
<rect x="293.15" y="718.35" width="37.50" height="8.50" rx="3.83" fill="#000"/>
<rect x="331.95" y="719.45" width="37.50" height="8.50" rx="3.83" fill="#000"/>
<rect x="370.85" y="720.15" width="37.50" height="8.50" rx="3.83" fill="#000"/>
<rect x="407.95" y="720.95" width="37.50" height="8.50" rx="3.83" fill="#000"/>
<rect x="447.55" y="721.45" width="37.50" height="7.50" rx="3.38" fill="#000" opacity="0.97"/>
<rect x="486.85" y="720.70" width="37.50" height="9.00" rx="4.05" fill="#000"/>
<rect x="524.55" y="720.70" width="37.50" height="9.00" rx="4.05" fill="#000"/>
<rect x="563.45" y="720.15" width="37.50" height="8.50" rx="3.83" fill="#000"/>
<rect x="602.35" y="719.10" width="37.50" height="7.00" rx="3.15" fill="#000" opacity="0.97"/>
<rect x="643.15" y="716.75" width="37.50" height="6.50" rx="2.93" fill="#000" opacity="0.85"/>
</g></g>
<text x="703.20" y="552.80" font-size="27.5" stroke="#000" stroke-width="0.6" stroke-linejoin="round" text-anchor="start">GYK</text>
<text x="703.20" y="619.00" font-size="27.5" stroke="#000" stroke-width="0.6" stroke-linejoin="round" text-anchor="start">FBP1</text>
<text x="703.20" y="677.80" font-size="27.5" stroke="#000" stroke-width="0.6" stroke-linejoin="round" text-anchor="start">PC</text>
<text x="703.20" y="732.00" font-size="27.5" stroke="#000" stroke-width="0.6" stroke-linejoin="round" text-anchor="start">GAPDH</text>
<line x1="129.30" y1="760.80" x2="400.00" y2="760.80" stroke="#000" stroke-width="3.3"/>
<line x1="413.70" y1="760.80" x2="684.00" y2="760.80" stroke="#000" stroke-width="3.3"/>
<text x="267.30" y="789.00" font-size="27.5" stroke="#000" stroke-width="0.6" stroke-linejoin="round">Control</text>
<text x="548.80" y="789.00" font-size="27.5" stroke="#000" stroke-width="0.6" stroke-linejoin="round">L-Pck1KO</text>
<text x="0" y="0" font-size="41" transform="translate(3.20 522.00) scale(0.98 1)" stroke="#000" stroke-width="0.9" stroke-linejoin="round" text-anchor="start">c</text>
</g>
<g id="panel_d_blots">
<clipPath id="bc5"><rect x="1033.00" y="528.90" width="567.80" height="47.60"/></clipPath>
<g clip-path="url(#bc5)" stroke="none">
<rect x="1033.00" y="528.90" width="567.80" height="47.60" fill="#dadada"/>
<rect x="1040.00" y="536.00" width="560.00" height="44.00" rx="22.0" fill="#000" opacity="0.26" filter="url(#bl6)"/>
<rect x="1040.00" y="530.00" width="250.00" height="30.00" rx="15.0" fill="#000" opacity="0.1" filter="url(#bl6)"/>
<rect x="1033.00" y="528.90" width="567.80" height="47.60" fill="#000" opacity="0.18" filter="url(#grain)"/>
<g filter="url(#bl1.8)">
<rect x="1043.10" y="543.80" width="49.00" height="19.00" rx="6.27" fill="#000"/>
<rect x="1088.50" y="545.85" width="49.00" height="19.50" rx="6.44" fill="#000"/>
<rect x="1135.30" y="546.95" width="49.00" height="19.50" rx="6.44" fill="#000"/>
<rect x="1181.10" y="550.45" width="49.00" height="19.50" rx="6.44" fill="#000"/>
<rect x="1227.00" y="552.95" width="49.00" height="17.50" rx="5.78" fill="#000"/>
<rect x="1273.30" y="552.55" width="49.00" height="17.50" rx="5.78" fill="#000"/>
<rect x="1318.80" y="550.70" width="49.00" height="20.00" rx="6.60" fill="#000"/>
<rect x="1365.10" y="548.55" width="49.00" height="21.50" rx="7.10" fill="#000"/>
<rect x="1410.90" y="547.00" width="49.00" height="22.00" rx="7.26" fill="#000"/>
<rect x="1455.90" y="546.50" width="49.00" height="21.00" rx="6.93" fill="#000"/>
<rect x="1501.20" y="545.85" width="49.00" height="20.50" rx="6.77" fill="#000"/>
<rect x="1547.00" y="544.55" width="49.00" height="17.50" rx="5.78" fill="#000" transform="rotate(-5 1571.50 553.30)"/>
<rect x="1044.60" y="544.80" width="46.00" height="17.00" rx="5.61" fill="#000"/>
<rect x="1090.00" y="546.85" width="46.00" height="17.50" rx="5.78" fill="#000"/>
<rect x="1136.80" y="547.95" width="46.00" height="17.50" rx="5.78" fill="#000"/>
<rect x="1182.60" y="551.45" width="46.00" height="17.50" rx="5.78" fill="#000"/>
<rect x="1228.50" y="553.95" width="46.00" height="15.50" rx="5.12" fill="#000"/>
<rect x="1274.80" y="553.55" width="46.00" height="15.50" rx="5.12" fill="#000"/>
<rect x="1320.30" y="551.70" width="46.00" height="18.00" rx="5.94" fill="#000"/>
<rect x="1366.60" y="549.55" width="46.00" height="19.50" rx="6.44" fill="#000"/>
<rect x="1412.40" y="548.00" width="46.00" height="20.00" rx="6.60" fill="#000"/>
<rect x="1457.40" y="547.50" width="46.00" height="19.00" rx="6.27" fill="#000"/>
<rect x="1502.70" y="546.85" width="46.00" height="18.50" rx="6.11" fill="#000"/>
<rect x="1548.50" y="545.55" width="46.00" height="15.50" rx="5.12" fill="#000" transform="rotate(-5 1571.50 553.30)"/>
</g></g>
<clipPath id="bc6"><rect x="1034.80" y="587.00" width="567.80" height="48.20"/></clipPath>
<g clip-path="url(#bc6)" stroke="none">
<rect x="1034.80" y="587.00" width="567.80" height="48.20" fill="#e8e8e8"/>
<rect x="1040.00" y="596.00" width="560.00" height="30.00" rx="15.0" fill="#000" opacity="0.12" filter="url(#bl5)"/>
<rect x="1034.80" y="587.00" width="567.80" height="48.20" fill="#000" opacity="0.08" filter="url(#grain)"/>
<g filter="url(#bl2)">
<rect x="1044.80" y="599.85" width="43.00" height="11.70" rx="5.26" fill="#000"/>
<rect x="1092.10" y="602.40" width="41.00" height="11.20" rx="5.04" fill="#000" transform="rotate(2 1112.60 608.00)"/>
<rect x="1136.40" y="604.30" width="42.00" height="12.20" rx="5.49" fill="#000"/>
<rect x="1182.80" y="606.65" width="41.00" height="10.70" rx="4.81" fill="#000"/>
<rect x="1231.50" y="607.65" width="39.00" height="10.70" rx="4.81" fill="#000"/>
<rect x="1277.20" y="607.65" width="40.00" height="10.70" rx="4.81" fill="#000"/>
<rect x="1324.80" y="607.60" width="39.00" height="10.00" rx="4.50" fill="#000" transform="rotate(-2 1344.30 612.60)"/>
<rect x="1371.10" y="605.30" width="39.00" height="10.20" rx="4.59" fill="#000" transform="rotate(-2 1390.60 610.40)"/>
<rect x="1415.40" y="604.05" width="40.00" height="10.50" rx="4.73" fill="#000"/>
<rect x="1461.70" y="603.65" width="41.00" height="10.50" rx="4.73" fill="#000"/>
<rect x="1508.00" y="602.30" width="41.00" height="13.20" rx="5.94" fill="#000"/>
<rect x="1552.40" y="600.95" width="43.00" height="10.70" rx="4.81" fill="#000" transform="rotate(-3 1573.90 606.30)"/>
</g></g>
<clipPath id="bc7"><rect x="1033.00" y="648.70" width="568.10" height="36.10"/></clipPath>
<g clip-path="url(#bc7)" stroke="none">
<rect x="1033.00" y="648.70" width="568.10" height="36.10" fill="#eaeaea"/>
<rect x="1040.00" y="656.00" width="560.00" height="24.00" rx="12.0" fill="#000" opacity="0.1" filter="url(#bl5)"/>
<rect x="1033.00" y="648.70" width="568.10" height="36.10" fill="#000" opacity="0.07" filter="url(#grain)"/>
<g filter="url(#bl2)">
<rect x="1045.90" y="662.90" width="36.00" height="8.60" rx="3.87" fill="#000" opacity="0.95" transform="rotate(4 1063.90 667.20)"/>
<rect x="1089.40" y="663.00" width="39.00" height="11.00" rx="4.95" fill="#000"/>
<rect x="1138.10" y="663.80" width="36.00" height="10.40" rx="4.68" fill="#000"/>
<rect x="1182.00" y="664.20" width="38.00" height="10.80" rx="4.86" fill="#000"/>
<rect x="1228.30" y="664.70" width="36.00" height="9.80" rx="4.41" fill="#000"/>
<rect x="1273.70" y="665.10" width="37.00" height="9.80" rx="4.41" fill="#000"/>
<rect x="1320.10" y="665.70" width="36.00" height="9.40" rx="4.23" fill="#000"/>
<rect x="1364.50" y="664.00" width="39.00" height="10.00" rx="4.50" fill="#000" transform="rotate(-2 1384.00 669.00)"/>
<rect x="1409.90" y="662.40" width="38.00" height="10.40" rx="4.68" fill="#000" transform="rotate(-2 1428.90 667.60)"/>
<rect x="1456.30" y="661.30" width="37.00" height="10.00" rx="4.50" fill="#000" transform="rotate(-3 1474.80 666.30)"/>
<rect x="1500.70" y="659.40" width="39.00" height="10.00" rx="4.50" fill="#000" transform="rotate(-4 1520.20 664.40)"/>
<rect x="1547.50" y="657.70" width="38.00" height="8.60" rx="3.87" fill="#000" opacity="0.78" transform="rotate(-8 1566.50 662.00)"/>
</g></g>
<clipPath id="bc8"><rect x="1034.00" y="697.40" width="568.20" height="54.10"/></clipPath>
<g clip-path="url(#bc8)" stroke="none">
<rect x="1034.00" y="697.40" width="568.20" height="54.10" fill="#e8e8e8"/>
<rect x="1040.00" y="712.00" width="560.00" height="26.00" rx="13.0" fill="#000" opacity="0.07" filter="url(#bl5)"/>
<rect x="1034.00" y="697.40" width="568.20" height="54.10" fill="#000" opacity="0.07" filter="url(#grain)"/>
<g filter="url(#bl1.8)">
<rect x="1050.40" y="722.35" width="43.00" height="11.50" rx="5.17" fill="#000"/>
<rect x="1095.25" y="722.10" width="43.50" height="12.00" rx="5.40" fill="#000"/>
<rect x="1140.90" y="722.60" width="42.00" height="11.00" rx="4.95" fill="#000"/>
<rect x="1186.50" y="722.85" width="41.00" height="10.50" rx="4.73" fill="#000"/>
<rect x="1230.70" y="721.90" width="43.00" height="11.00" rx="4.95" fill="#000"/>
<rect x="1276.00" y="722.05" width="42.00" height="10.70" rx="4.81" fill="#000"/>
<rect x="1321.70" y="721.45" width="41.00" height="10.50" rx="4.73" fill="#000"/>
<rect x="1366.40" y="719.95" width="42.00" height="10.50" rx="4.73" fill="#000" transform="rotate(-2 1387.40 725.20)"/>
<rect x="1411.75" y="716.70" width="42.50" height="11.00" rx="4.95" fill="#000" transform="rotate(-4 1433.00 722.20)"/>
<rect x="1457.80" y="713.15" width="43.00" height="11.50" rx="5.17" fill="#000" transform="rotate(-3 1479.30 718.90)"/>
<rect x="1503.70" y="711.80" width="40.00" height="9.00" rx="4.05" fill="#000" transform="rotate(-5 1523.70 716.30)"/>
<rect x="1547.60" y="708.55" width="41.00" height="9.50" rx="4.28" fill="#000" transform="rotate(-6 1568.10 713.30)"/>
</g></g>
<text x="1615.50" y="551.40" font-size="27.5" stroke="#000" stroke-width="0.6" stroke-linejoin="round" text-anchor="start">PCK1</text>
<text x="1615.50" y="617.50" font-size="27.5" stroke="#000" stroke-width="0.6" stroke-linejoin="round" text-anchor="start">FBP1</text>
<text x="1615.50" y="676.40" font-size="27.5" stroke="#000" stroke-width="0.6" stroke-linejoin="round" text-anchor="start">PC</text>
<text x="1615.50" y="731.40" font-size="27.5" stroke="#000" stroke-width="0.6" stroke-linejoin="round" text-anchor="start">GAPDH</text>
<line x1="1046.70" y1="758.60" x2="1271.90" y2="758.90" stroke="#000" stroke-width="3.3"/>
<line x1="1284.80" y1="758.80" x2="1592.20" y2="761.60" stroke="#000" stroke-width="3.3"/>
<text x="1164.40" y="788.30" font-size="27.5" stroke="#000" stroke-width="0.6" stroke-linejoin="round">Control</text>
<text x="1439.60" y="787.00" font-size="27.5" stroke="#000" stroke-width="0.6" stroke-linejoin="round">L-GykKO</text>
<text x="0" y="0" font-size="41" transform="translate(925.50 519.50) scale(0.98 1)" stroke="#000" stroke-width="0.9" stroke-linejoin="round" text-anchor="start">d</text>
</g>
<g id="panel_c_small">
<text x="177.80" y="847.80" font-size="27.3" stroke="#000" stroke-width="0.6" stroke-linejoin="round">GYK</text>
<text x="42.70" y="967.50" font-size="16.4" stroke="#000" stroke-width="0.6" stroke-linejoin="round" transform="rotate(-90 42.70 967.50)">Relative intensity</text>
<text x="61.20" y="967.50" font-size="16.4" stroke="#000" stroke-width="0.6" stroke-linejoin="round" transform="rotate(-90 61.20 967.50)">(normalised to GAPDH intensity)</text>
<rect x="123.00" y="980.52" width="40.90" height="74.78" fill="#fff" stroke="#000" stroke-width="1.6"/>
<rect x="188.80" y="945.80" width="40.40" height="109.50" fill="#F93A82" stroke="#000" stroke-width="1.6"/>
<line x1="143.45" y1="975.00" x2="143.45" y2="983.33" stroke="#000" stroke-width="1.6"/>
<line x1="132.45" y1="975.00" x2="154.45" y2="975.00" stroke="#000" stroke-width="1.6"/>
<line x1="132.45" y1="983.33" x2="154.45" y2="983.33" stroke="#000" stroke-width="1.6"/>
<line x1="209.00" y1="937.50" x2="209.00" y2="951.39" stroke="#000" stroke-width="1.6"/>
<line x1="198.00" y1="937.50" x2="220.00" y2="937.50" stroke="#000" stroke-width="1.6"/>
<line x1="198.00" y1="951.39" x2="220.00" y2="951.39" stroke="#000" stroke-width="1.6"/>
<line x1="99.40" y1="902.00" x2="99.40" y2="1056.10" stroke="#000" stroke-width="1.6"/>
<line x1="92.90" y1="1055.30" x2="252.20" y2="1055.30" stroke="#000" stroke-width="1.6"/>
<line x1="92.90" y1="902.80" x2="99.40" y2="902.80" stroke="#000" stroke-width="1.6"/>
<text x="90.40" y="908.40" font-size="16" stroke="#000" stroke-width="0.6" stroke-linejoin="round" text-anchor="end">2.0</text>
<line x1="92.90" y1="940.80" x2="99.40" y2="940.80" stroke="#000" stroke-width="1.6"/>
<text x="90.40" y="946.40" font-size="16" stroke="#000" stroke-width="0.6" stroke-linejoin="round" text-anchor="end">1.5</text>
<line x1="92.90" y1="979.20" x2="99.40" y2="979.20" stroke="#000" stroke-width="1.6"/>
<text x="90.40" y="984.80" font-size="16" stroke="#000" stroke-width="0.6" stroke-linejoin="round" text-anchor="end">1.0</text>
<line x1="92.90" y1="1017.20" x2="99.40" y2="1017.20" stroke="#000" stroke-width="1.6"/>
<text x="90.40" y="1022.80" font-size="16" stroke="#000" stroke-width="0.6" stroke-linejoin="round" text-anchor="end">0.5</text>
<line x1="92.90" y1="1055.30" x2="99.40" y2="1055.30" stroke="#000" stroke-width="1.6"/>
<text x="90.40" y="1060.90" font-size="16" stroke="#000" stroke-width="0.6" stroke-linejoin="round" text-anchor="end">0.0</text>
<line x1="143.45" y1="1055.30" x2="143.45" y2="1062.30" stroke="#000" stroke-width="1.6"/>
<text x="143.45" y="1078.60" font-size="14.6" stroke="#000" stroke-width="0.6" stroke-linejoin="round">Control</text>
<line x1="209.00" y1="1055.30" x2="209.00" y2="1062.30" stroke="#000" stroke-width="1.6"/>
<text x="209.00" y="1078.60" font-size="14.6" stroke="#000" stroke-width="0.6" stroke-linejoin="round">L-Pck1KO</text>
<circle cx="143.61" cy="964.44" r="2.5" fill="#fff" stroke="#000" stroke-width="1.1"/>
<circle cx="143.61" cy="969.44" r="2.5" fill="#fff" stroke="#000" stroke-width="1.1"/>
<circle cx="138.06" cy="976.94" r="2.5" fill="#fff" stroke="#000" stroke-width="1.1"/>
<circle cx="148.61" cy="977.78" r="2.5" fill="#fff" stroke="#000" stroke-width="1.1"/>
<circle cx="143.61" cy="981.94" r="2.5" fill="#fff" stroke="#000" stroke-width="1.1"/>
<circle cx="148.61" cy="989.44" r="2.5" fill="#fff" stroke="#000" stroke-width="1.1"/>
<circle cx="138.89" cy="993.89" r="2.5" fill="#fff" stroke="#000" stroke-width="1.1"/>
<polygon points="206.59,911.37 211.19,911.37 208.89,915.74" fill="#fff" stroke="#000" stroke-width="1.1" stroke-linejoin="round"/>
<polygon points="206.59,921.64 211.19,921.64 208.89,926.01" fill="#fff" stroke="#000" stroke-width="1.1" stroke-linejoin="round"/>
<polygon points="201.87,945.26 206.47,945.26 204.17,949.63" fill="#fff" stroke="#000" stroke-width="1.1" stroke-linejoin="round"/>
<polygon points="211.03,945.26 215.63,945.26 213.33,949.63" fill="#fff" stroke="#000" stroke-width="1.1" stroke-linejoin="round"/>
<polygon points="197.14,956.92 201.74,956.92 199.44,961.29" fill="#fff" stroke="#000" stroke-width="1.1" stroke-linejoin="round"/>
<polygon points="206.59,956.37 211.19,956.37 208.89,960.74" fill="#fff" stroke="#000" stroke-width="1.1" stroke-linejoin="round"/>
<polygon points="216.31,956.92 220.91,956.92 218.61,961.29" fill="#fff" stroke="#000" stroke-width="1.1" stroke-linejoin="round"/>
<polyline points="143.30,903.00 143.30,893.60 209.20,893.60 209.20,903.00" fill="none" stroke="#000" stroke-width="1.6"/>
<text x="177.80" y="896.18" font-size="31" stroke="#000" stroke-width="0.7" stroke-linejoin="round">**</text>
<text x="413.90" y="847.80" font-size="27.3" stroke="#000" stroke-width="0.6" stroke-linejoin="round">FBP1</text>
<text x="287.20" y="967.50" font-size="16.4" stroke="#000" stroke-width="0.6" stroke-linejoin="round" transform="rotate(-90 287.20 967.50)">Relative intensity</text>
<text x="305.70" y="967.50" font-size="16.4" stroke="#000" stroke-width="0.6" stroke-linejoin="round" transform="rotate(-90 305.70 967.50)">(normalised to GAPDH intensity)</text>
<rect x="366.80" y="954.69" width="40.70" height="100.01" fill="#fff" stroke="#000" stroke-width="1.6"/>
<rect x="432.80" y="966.91" width="40.00" height="87.79" fill="#F93A82" stroke="#000" stroke-width="1.6"/>
<line x1="387.15" y1="943.06" x2="387.15" y2="964.44" stroke="#000" stroke-width="1.6"/>
<line x1="376.15" y1="943.06" x2="398.15" y2="943.06" stroke="#000" stroke-width="1.6"/>
<line x1="376.15" y1="964.44" x2="398.15" y2="964.44" stroke="#000" stroke-width="1.6"/>
<line x1="452.80" y1="960.28" x2="452.80" y2="970.28" stroke="#000" stroke-width="1.6"/>
<line x1="441.80" y1="960.28" x2="463.80" y2="960.28" stroke="#000" stroke-width="1.6"/>
<line x1="441.80" y1="970.28" x2="463.80" y2="970.28" stroke="#000" stroke-width="1.6"/>
<line x1="344.40" y1="902.00" x2="344.40" y2="1055.50" stroke="#000" stroke-width="1.6"/>
<line x1="337.90" y1="1054.70" x2="495.80" y2="1054.70" stroke="#000" stroke-width="1.6"/>
<line x1="337.90" y1="902.80" x2="344.40" y2="902.80" stroke="#000" stroke-width="1.6"/>
<text x="335.40" y="908.40" font-size="16" stroke="#000" stroke-width="0.6" stroke-linejoin="round" text-anchor="end">1.5</text>
<line x1="337.90" y1="953.30" x2="344.40" y2="953.30" stroke="#000" stroke-width="1.6"/>
<text x="335.40" y="958.90" font-size="16" stroke="#000" stroke-width="0.6" stroke-linejoin="round" text-anchor="end">1.0</text>
<line x1="337.90" y1="1004.20" x2="344.40" y2="1004.20" stroke="#000" stroke-width="1.6"/>
<text x="335.40" y="1009.80" font-size="16" stroke="#000" stroke-width="0.6" stroke-linejoin="round" text-anchor="end">0.5</text>
<line x1="337.90" y1="1054.70" x2="344.40" y2="1054.70" stroke="#000" stroke-width="1.6"/>
<text x="335.40" y="1060.30" font-size="16" stroke="#000" stroke-width="0.6" stroke-linejoin="round" text-anchor="end">0.0</text>
<line x1="387.15" y1="1054.70" x2="387.15" y2="1061.70" stroke="#000" stroke-width="1.6"/>
<text x="387.15" y="1078.60" font-size="14.6" stroke="#000" stroke-width="0.6" stroke-linejoin="round">Control</text>
<line x1="452.80" y1="1054.70" x2="452.80" y2="1061.70" stroke="#000" stroke-width="1.6"/>
<text x="452.80" y="1078.60" font-size="14.6" stroke="#000" stroke-width="0.6" stroke-linejoin="round">L-Pck1KO</text>
<circle cx="386.94" cy="914.72" r="2.5" fill="#fff" stroke="#000" stroke-width="1.1"/>
<circle cx="386.94" cy="928.33" r="2.5" fill="#fff" stroke="#000" stroke-width="1.1"/>
<circle cx="386.94" cy="935.28" r="2.5" fill="#fff" stroke="#000" stroke-width="1.1"/>
<circle cx="386.94" cy="961.67" r="2.5" fill="#fff" stroke="#000" stroke-width="1.1"/>
<circle cx="382.50" cy="970.83" r="2.5" fill="#fff" stroke="#000" stroke-width="1.1"/>
<circle cx="391.67" cy="972.22" r="2.5" fill="#fff" stroke="#000" stroke-width="1.1"/>
<circle cx="386.94" cy="993.06" r="2.5" fill="#fff" stroke="#000" stroke-width="1.1"/>
<polygon points="449.92,946.09 454.52,946.09 452.22,950.46" fill="#fff" stroke="#000" stroke-width="1.1" stroke-linejoin="round"/>
<polygon points="449.92,951.37 454.52,951.37 452.22,955.74" fill="#fff" stroke="#000" stroke-width="1.1" stroke-linejoin="round"/>
<polygon points="449.92,957.76 454.52,957.76 452.22,962.13" fill="#fff" stroke="#000" stroke-width="1.1" stroke-linejoin="round"/>
<polygon points="440.76,961.37 445.36,961.37 443.06,965.74" fill="#fff" stroke="#000" stroke-width="1.1" stroke-linejoin="round"/>
<polygon points="459.37,961.37 463.97,961.37 461.67,965.74" fill="#fff" stroke="#000" stroke-width="1.1" stroke-linejoin="round"/>
<polygon points="445.48,981.92 450.08,981.92 447.78,986.29" fill="#fff" stroke="#000" stroke-width="1.1" stroke-linejoin="round"/>
<polygon points="454.64,979.98 459.24,979.98 456.94,984.35" fill="#fff" stroke="#000" stroke-width="1.1" stroke-linejoin="round"/>
<text x="662.00" y="847.00" font-size="27.3" stroke="#000" stroke-width="0.6" stroke-linejoin="round">PC</text>
<text x="537.70" y="962.50" font-size="16.4" stroke="#000" stroke-width="0.6" stroke-linejoin="round" transform="rotate(-90 537.70 962.50)">Relative intensity</text>
<text x="556.70" y="962.50" font-size="16.4" stroke="#000" stroke-width="0.6" stroke-linejoin="round" transform="rotate(-90 556.70 962.50)">(normalised to GAPDH intensity)</text>
<rect x="619.40" y="950.80" width="40.80" height="101.20" fill="#fff" stroke="#000" stroke-width="1.6"/>
<rect x="685.50" y="958.30" width="40.90" height="93.70" fill="#F93A82" stroke="#000" stroke-width="1.6"/>
<line x1="639.80" y1="940.28" x2="639.80" y2="958.33" stroke="#000" stroke-width="1.6"/>
<line x1="628.80" y1="940.28" x2="650.80" y2="940.28" stroke="#000" stroke-width="1.6"/>
<line x1="628.80" y1="958.33" x2="650.80" y2="958.33" stroke="#000" stroke-width="1.6"/>
<line x1="705.95" y1="950.00" x2="705.95" y2="963.06" stroke="#000" stroke-width="1.6"/>
<line x1="694.95" y1="950.00" x2="716.95" y2="950.00" stroke="#000" stroke-width="1.6"/>
<line x1="694.95" y1="963.06" x2="716.95" y2="963.06" stroke="#000" stroke-width="1.6"/>
<line x1="596.70" y1="897.00" x2="596.70" y2="1052.80" stroke="#000" stroke-width="1.6"/>
<line x1="590.20" y1="1052.00" x2="749.40" y2="1052.00" stroke="#000" stroke-width="1.6"/>
<line x1="590.20" y1="897.80" x2="596.70" y2="897.80" stroke="#000" stroke-width="1.6"/>
<text x="587.70" y="903.40" font-size="16" stroke="#000" stroke-width="0.6" stroke-linejoin="round" text-anchor="end">1.5</text>
<line x1="590.20" y1="949.20" x2="596.70" y2="949.20" stroke="#000" stroke-width="1.6"/>
<text x="587.70" y="954.80" font-size="16" stroke="#000" stroke-width="0.6" stroke-linejoin="round" text-anchor="end">1.0</text>
<line x1="590.20" y1="1000.60" x2="596.70" y2="1000.60" stroke="#000" stroke-width="1.6"/>
<text x="587.70" y="1006.20" font-size="16" stroke="#000" stroke-width="0.6" stroke-linejoin="round" text-anchor="end">0.5</text>
<line x1="590.20" y1="1052.00" x2="596.70" y2="1052.00" stroke="#000" stroke-width="1.6"/>
<text x="587.70" y="1057.60" font-size="16" stroke="#000" stroke-width="0.6" stroke-linejoin="round" text-anchor="end">0.0</text>
<line x1="639.80" y1="1052.00" x2="639.80" y2="1059.00" stroke="#000" stroke-width="1.6"/>
<text x="639.80" y="1075.00" font-size="14.6" stroke="#000" stroke-width="0.6" stroke-linejoin="round">Control</text>
<line x1="705.95" y1="1052.00" x2="705.95" y2="1059.00" stroke="#000" stroke-width="1.6"/>
<text x="705.95" y="1075.00" font-size="14.6" stroke="#000" stroke-width="0.6" stroke-linejoin="round">L-Pck1KO</text>
<circle cx="635.28" cy="918.61" r="2.5" fill="#fff" stroke="#000" stroke-width="1.1"/>
<circle cx="644.44" cy="919.44" r="2.5" fill="#fff" stroke="#000" stroke-width="1.1"/>
<circle cx="639.72" cy="940.83" r="2.5" fill="#fff" stroke="#000" stroke-width="1.1"/>
<circle cx="639.72" cy="959.72" r="2.5" fill="#fff" stroke="#000" stroke-width="1.1"/>
<circle cx="635.28" cy="966.11" r="2.5" fill="#fff" stroke="#000" stroke-width="1.1"/>
<circle cx="644.44" cy="968.06" r="2.5" fill="#fff" stroke="#000" stroke-width="1.1"/>
<circle cx="639.72" cy="973.61" r="2.5" fill="#fff" stroke="#000" stroke-width="1.1"/>
<polygon points="703.81,927.76 708.41,927.76 706.11,932.13" fill="#fff" stroke="#000" stroke-width="1.1" stroke-linejoin="round"/>
<polygon points="703.81,940.53 708.41,940.53 706.11,944.90" fill="#fff" stroke="#000" stroke-width="1.1" stroke-linejoin="round"/>
<polygon points="699.09,951.64 703.69,951.64 701.39,956.01" fill="#fff" stroke="#000" stroke-width="1.1" stroke-linejoin="round"/>
<polygon points="708.26,956.92 712.86,956.92 710.56,961.29" fill="#fff" stroke="#000" stroke-width="1.1" stroke-linejoin="round"/>
<polygon points="703.81,958.59 708.41,958.59 706.11,962.96" fill="#fff" stroke="#000" stroke-width="1.1" stroke-linejoin="round"/>
<polygon points="703.81,964.70 708.41,964.70 706.11,969.07" fill="#fff" stroke="#000" stroke-width="1.1" stroke-linejoin="round"/>
<polygon points="703.81,979.42 708.41,979.42 706.11,983.79" fill="#fff" stroke="#000" stroke-width="1.1" stroke-linejoin="round"/>
</g>
<g id="panel_d_small">
<text x="1082.00" y="847.80" font-size="27.3" stroke="#000" stroke-width="0.6" stroke-linejoin="round">PCK1</text>
<text x="949.70" y="961.00" font-size="16.4" stroke="#000" stroke-width="0.6" stroke-linejoin="round" transform="rotate(-90 949.70 961.00)">Relative intensity</text>
<text x="969.20" y="961.00" font-size="16.4" stroke="#000" stroke-width="0.6" stroke-linejoin="round" transform="rotate(-90 969.20 961.00)">(normalised to GAPDH intensity)</text>
<rect x="1031.90" y="946.36" width="41.50" height="101.14" fill="#fff" stroke="#000" stroke-width="1.6"/>
<rect x="1098.00" y="941.63" width="41.50" height="105.87" fill="#8FE1FA" stroke="#000" stroke-width="1.6"/>
<line x1="1052.65" y1="935.83" x2="1052.65" y2="954.72" stroke="#000" stroke-width="1.6"/>
<line x1="1041.65" y1="935.83" x2="1063.65" y2="935.83" stroke="#000" stroke-width="1.6"/>
<line x1="1041.65" y1="954.72" x2="1063.65" y2="954.72" stroke="#000" stroke-width="1.6"/>
<line x1="1118.75" y1="935.00" x2="1118.75" y2="945.28" stroke="#000" stroke-width="1.6"/>
<line x1="1107.75" y1="935.00" x2="1129.75" y2="935.00" stroke="#000" stroke-width="1.6"/>
<line x1="1107.75" y1="945.28" x2="1129.75" y2="945.28" stroke="#000" stroke-width="1.6"/>
<line x1="1008.90" y1="893.10" x2="1008.90" y2="1048.30" stroke="#000" stroke-width="1.6"/>
<line x1="1002.40" y1="1047.50" x2="1162.50" y2="1047.50" stroke="#000" stroke-width="1.6"/>
<line x1="1002.40" y1="893.90" x2="1008.90" y2="893.90" stroke="#000" stroke-width="1.6"/>
<text x="999.90" y="899.50" font-size="16" stroke="#000" stroke-width="0.6" stroke-linejoin="round" text-anchor="end">1.5</text>
<line x1="1002.40" y1="945.00" x2="1008.90" y2="945.00" stroke="#000" stroke-width="1.6"/>
<text x="999.90" y="950.60" font-size="16" stroke="#000" stroke-width="0.6" stroke-linejoin="round" text-anchor="end">1.0</text>
<line x1="1002.40" y1="996.40" x2="1008.90" y2="996.40" stroke="#000" stroke-width="1.6"/>
<text x="999.90" y="1002.00" font-size="16" stroke="#000" stroke-width="0.6" stroke-linejoin="round" text-anchor="end">0.5</text>
<line x1="1002.40" y1="1047.50" x2="1008.90" y2="1047.50" stroke="#000" stroke-width="1.6"/>
<text x="999.90" y="1053.10" font-size="16" stroke="#000" stroke-width="0.6" stroke-linejoin="round" text-anchor="end">0.0</text>
<line x1="1052.65" y1="1047.50" x2="1052.65" y2="1054.50" stroke="#000" stroke-width="1.6"/>
<text x="1052.65" y="1070.30" font-size="14.6" stroke="#000" stroke-width="0.6" stroke-linejoin="round">Control</text>
<line x1="1118.75" y1="1047.50" x2="1118.75" y2="1054.50" stroke="#000" stroke-width="1.6"/>
<text x="1118.75" y="1070.30" font-size="14.6" stroke="#000" stroke-width="0.6" stroke-linejoin="round">L-GykKO</text>
<circle cx="1048.06" cy="921.39" r="2.5" fill="#fff" stroke="#000" stroke-width="1.1"/>
<circle cx="1057.22" cy="926.11" r="2.5" fill="#fff" stroke="#000" stroke-width="1.1"/>
<circle cx="1052.22" cy="948.06" r="2.5" fill="#fff" stroke="#000" stroke-width="1.1"/>
<circle cx="1052.22" cy="961.11" r="2.5" fill="#fff" stroke="#000" stroke-width="1.1"/>
<circle cx="1052.22" cy="970.28" r="2.5" fill="#fff" stroke="#000" stroke-width="1.1"/>
<polygon points="1111.03,926.97 1115.63,926.97 1113.33,922.60" fill="#fff" stroke="#000" stroke-width="1.1" stroke-linejoin="round"/>
<polygon points="1120.48,926.97 1125.08,926.97 1122.78,922.60" fill="#fff" stroke="#000" stroke-width="1.1" stroke-linejoin="round"/>
<polygon points="1115.76,932.52 1120.36,932.52 1118.06,928.15" fill="#fff" stroke="#000" stroke-width="1.1" stroke-linejoin="round"/>
<polygon points="1115.76,945.02 1120.36,945.02 1118.06,940.65" fill="#fff" stroke="#000" stroke-width="1.1" stroke-linejoin="round"/>
<polygon points="1106.59,956.13 1111.19,956.13 1108.89,951.76" fill="#fff" stroke="#000" stroke-width="1.1" stroke-linejoin="round"/>
<polygon points="1115.76,954.19 1120.36,954.19 1118.06,949.82" fill="#fff" stroke="#000" stroke-width="1.1" stroke-linejoin="round"/>
<polygon points="1125.48,954.74 1130.08,954.74 1127.78,950.37" fill="#fff" stroke="#000" stroke-width="1.1" stroke-linejoin="round"/>
<text x="1321.00" y="847.20" font-size="27.3" stroke="#000" stroke-width="0.6" stroke-linejoin="round">FBP1</text>
<text x="1190.20" y="957.50" font-size="16.4" stroke="#000" stroke-width="0.6" stroke-linejoin="round" transform="rotate(-90 1190.20 957.50)">Relative intensity</text>
<text x="1209.70" y="957.50" font-size="16.4" stroke="#000" stroke-width="0.6" stroke-linejoin="round" transform="rotate(-90 1209.70 957.50)">(normalised to GAPDH intensity)</text>
<rect x="1272.50" y="943.58" width="41.40" height="101.12" fill="#fff" stroke="#000" stroke-width="1.6"/>
<rect x="1338.80" y="935.80" width="41.30" height="108.90" fill="#8FE1FA" stroke="#000" stroke-width="1.6"/>
<line x1="1293.20" y1="932.50" x2="1293.20" y2="952.22" stroke="#000" stroke-width="1.6"/>
<line x1="1282.20" y1="932.50" x2="1304.20" y2="932.50" stroke="#000" stroke-width="1.6"/>
<line x1="1282.20" y1="952.22" x2="1304.20" y2="952.22" stroke="#000" stroke-width="1.6"/>
<line x1="1359.45" y1="927.78" x2="1359.45" y2="940.83" stroke="#000" stroke-width="1.6"/>
<line x1="1348.45" y1="927.78" x2="1370.45" y2="927.78" stroke="#000" stroke-width="1.6"/>
<line x1="1348.45" y1="940.83" x2="1370.45" y2="940.83" stroke="#000" stroke-width="1.6"/>
<line x1="1249.40" y1="890.00" x2="1249.40" y2="1045.50" stroke="#000" stroke-width="1.6"/>
<line x1="1242.90" y1="1044.70" x2="1403.00" y2="1044.70" stroke="#000" stroke-width="1.6"/>
<line x1="1242.90" y1="890.80" x2="1249.40" y2="890.80" stroke="#000" stroke-width="1.6"/>
<text x="1240.40" y="896.40" font-size="16" stroke="#000" stroke-width="0.6" stroke-linejoin="round" text-anchor="end">1.5</text>
<line x1="1242.90" y1="942.20" x2="1249.40" y2="942.20" stroke="#000" stroke-width="1.6"/>
<text x="1240.40" y="947.80" font-size="16" stroke="#000" stroke-width="0.6" stroke-linejoin="round" text-anchor="end">1.0</text>
<line x1="1242.90" y1="993.60" x2="1249.40" y2="993.60" stroke="#000" stroke-width="1.6"/>
<text x="1240.40" y="999.20" font-size="16" stroke="#000" stroke-width="0.6" stroke-linejoin="round" text-anchor="end">0.5</text>
<line x1="1242.90" y1="1044.70" x2="1249.40" y2="1044.70" stroke="#000" stroke-width="1.6"/>
<text x="1240.40" y="1050.30" font-size="16" stroke="#000" stroke-width="0.6" stroke-linejoin="round" text-anchor="end">0.0</text>
<line x1="1293.20" y1="1044.70" x2="1293.20" y2="1051.70" stroke="#000" stroke-width="1.6"/>
<text x="1293.20" y="1067.20" font-size="14.6" stroke="#000" stroke-width="0.6" stroke-linejoin="round">Control</text>
<line x1="1359.45" y1="1044.70" x2="1359.45" y2="1051.70" stroke="#000" stroke-width="1.6"/>
<text x="1359.45" y="1067.20" font-size="14.6" stroke="#000" stroke-width="0.6" stroke-linejoin="round">L-GykKO</text>
<circle cx="1293.61" cy="917.22" r="2.5" fill="#fff" stroke="#000" stroke-width="1.1"/>
<circle cx="1293.61" cy="925.00" r="2.5" fill="#fff" stroke="#000" stroke-width="1.1"/>
<circle cx="1293.61" cy="941.11" r="2.5" fill="#fff" stroke="#000" stroke-width="1.1"/>
<circle cx="1293.61" cy="961.11" r="2.5" fill="#fff" stroke="#000" stroke-width="1.1"/>
<circle cx="1293.61" cy="967.78" r="2.5" fill="#fff" stroke="#000" stroke-width="1.1"/>
<polygon points="1357.20,908.36 1361.80,908.36 1359.50,903.99" fill="#fff" stroke="#000" stroke-width="1.1" stroke-linejoin="round"/>
<polygon points="1352.48,926.97 1357.08,926.97 1354.78,922.60" fill="#fff" stroke="#000" stroke-width="1.1" stroke-linejoin="round"/>
<polygon points="1361.92,926.97 1366.52,926.97 1364.22,922.60" fill="#fff" stroke="#000" stroke-width="1.1" stroke-linejoin="round"/>
<polygon points="1357.20,938.08 1361.80,938.08 1359.50,933.71" fill="#fff" stroke="#000" stroke-width="1.1" stroke-linejoin="round"/>
<polygon points="1348.03,953.36 1352.63,953.36 1350.33,948.99" fill="#fff" stroke="#000" stroke-width="1.1" stroke-linejoin="round"/>
<polygon points="1357.20,952.52 1361.80,952.52 1359.50,948.15" fill="#fff" stroke="#000" stroke-width="1.1" stroke-linejoin="round"/>
<polygon points="1366.37,952.52 1370.97,952.52 1368.67,948.15" fill="#fff" stroke="#000" stroke-width="1.1" stroke-linejoin="round"/>
<text x="1598.40" y="845.80" font-size="27.3" stroke="#000" stroke-width="0.6" stroke-linejoin="round">PC</text>
<text x="1468.70" y="954.50" font-size="16.4" stroke="#000" stroke-width="0.6" stroke-linejoin="round" transform="rotate(-90 1468.70 954.50)">Relative intensity</text>
<text x="1488.20" y="954.50" font-size="16.4" stroke="#000" stroke-width="0.6" stroke-linejoin="round" transform="rotate(-90 1488.20 954.50)">(normalised to GAPDH intensity)</text>
<rect x="1553.90" y="937.74" width="42.30" height="104.76" fill="#fff" stroke="#000" stroke-width="1.6"/>
<rect x="1622.20" y="942.19" width="42.60" height="100.31" fill="#8FE1FA" stroke="#000" stroke-width="1.6"/>
<line x1="1575.05" y1="928.33" x2="1575.05" y2="944.44" stroke="#000" stroke-width="1.6"/>
<line x1="1564.05" y1="928.33" x2="1586.05" y2="928.33" stroke="#000" stroke-width="1.6"/>
<line x1="1564.05" y1="944.44" x2="1586.05" y2="944.44" stroke="#000" stroke-width="1.6"/>
<line x1="1643.50" y1="934.72" x2="1643.50" y2="946.39" stroke="#000" stroke-width="1.6"/>
<line x1="1632.50" y1="934.72" x2="1654.50" y2="934.72" stroke="#000" stroke-width="1.6"/>
<line x1="1632.50" y1="946.39" x2="1654.50" y2="946.39" stroke="#000" stroke-width="1.6"/>
<line x1="1529.80" y1="882.20" x2="1529.80" y2="1043.30" stroke="#000" stroke-width="1.6"/>
<line x1="1523.30" y1="1042.50" x2="1688.70" y2="1042.50" stroke="#000" stroke-width="1.6"/>
<line x1="1523.30" y1="883.00" x2="1529.80" y2="883.00" stroke="#000" stroke-width="1.6"/>
<text x="1520.80" y="888.60" font-size="16" stroke="#000" stroke-width="0.6" stroke-linejoin="round" text-anchor="end">1.5</text>
<line x1="1523.30" y1="936.40" x2="1529.80" y2="936.40" stroke="#000" stroke-width="1.6"/>
<text x="1520.80" y="942.00" font-size="16" stroke="#000" stroke-width="0.6" stroke-linejoin="round" text-anchor="end">1.0</text>
<line x1="1523.30" y1="989.40" x2="1529.80" y2="989.40" stroke="#000" stroke-width="1.6"/>
<text x="1520.80" y="995.00" font-size="16" stroke="#000" stroke-width="0.6" stroke-linejoin="round" text-anchor="end">0.5</text>
<line x1="1523.30" y1="1042.50" x2="1529.80" y2="1042.50" stroke="#000" stroke-width="1.6"/>
<text x="1520.80" y="1048.10" font-size="16" stroke="#000" stroke-width="0.6" stroke-linejoin="round" text-anchor="end">0.0</text>
<line x1="1575.05" y1="1042.50" x2="1575.05" y2="1049.50" stroke="#000" stroke-width="1.6"/>
<text x="1575.05" y="1065.30" font-size="14.6" stroke="#000" stroke-width="0.6" stroke-linejoin="round">Control</text>
<line x1="1643.50" y1="1042.50" x2="1643.50" y2="1049.50" stroke="#000" stroke-width="1.6"/>
<text x="1643.50" y="1065.30" font-size="14.6" stroke="#000" stroke-width="0.6" stroke-linejoin="round">L-GykKO</text>
<circle cx="1575.33" cy="918.06" r="2.5" fill="#fff" stroke="#000" stroke-width="1.1"/>
<circle cx="1575.33" cy="923.61" r="2.5" fill="#fff" stroke="#000" stroke-width="1.1"/>
<circle cx="1575.33" cy="930.00" r="2.5" fill="#fff" stroke="#000" stroke-width="1.1"/>
<circle cx="1575.33" cy="951.39" r="2.5" fill="#fff" stroke="#000" stroke-width="1.1"/>
<circle cx="1575.33" cy="959.72" r="2.5" fill="#fff" stroke="#000" stroke-width="1.1"/>
<polygon points="1641.09,909.47 1645.69,909.47 1643.39,905.10" fill="#fff" stroke="#000" stroke-width="1.1" stroke-linejoin="round"/>
<polygon points="1632.20,944.19 1636.80,944.19 1634.50,939.82" fill="#fff" stroke="#000" stroke-width="1.1" stroke-linejoin="round"/>
<polygon points="1641.09,946.41 1645.69,946.41 1643.39,942.04" fill="#fff" stroke="#000" stroke-width="1.1" stroke-linejoin="round"/>
<polygon points="1650.26,943.08 1654.86,943.08 1652.56,938.71" fill="#fff" stroke="#000" stroke-width="1.1" stroke-linejoin="round"/>
<polygon points="1632.20,954.19 1636.80,954.19 1634.50,949.82" fill="#fff" stroke="#000" stroke-width="1.1" stroke-linejoin="round"/>
<polygon points="1641.09,951.97 1645.69,951.97 1643.39,947.60" fill="#fff" stroke="#000" stroke-width="1.1" stroke-linejoin="round"/>
<polygon points="1650.26,953.63 1654.86,953.63 1652.56,949.26" fill="#fff" stroke="#000" stroke-width="1.1" stroke-linejoin="round"/>
</g>
<g id="panel_e">
<text x="0" y="0" font-size="41" transform="translate(4.00 1133.00) scale(0.98 1)" stroke="#000" stroke-width="0.9" stroke-linejoin="round" text-anchor="start">e</text>
<text x="107.30" y="1147.00" font-size="35" stroke="#000" stroke-width="0.6" stroke-linejoin="round" text-anchor="start">Lactate Tolerance Test</text>
<text x="86.50" y="1272.00" font-size="23.6" stroke="#000" stroke-width="0.6" stroke-linejoin="round" transform="rotate(-90 86.50 1272.00)">Blood glucose (mg/dL)</text>
<line x1="147.20" y1="1173.10" x2="147.20" y2="1406.00" stroke="#000" stroke-width="2.2"/>
<line x1="138.20" y1="1397.00" x2="480.00" y2="1397.00" stroke="#000" stroke-width="2.2"/>
<line x1="138.20" y1="1174.20" x2="147.20" y2="1174.20" stroke="#000" stroke-width="2.2"/>
<text x="134.20" y="1182.60" font-size="24.2" stroke="#000" stroke-width="0.6" stroke-linejoin="round" text-anchor="end">200</text>
<line x1="138.20" y1="1230.30" x2="147.20" y2="1230.30" stroke="#000" stroke-width="2.2"/>
<text x="134.20" y="1238.70" font-size="24.2" stroke="#000" stroke-width="0.6" stroke-linejoin="round" text-anchor="end">150</text>
<line x1="138.20" y1="1285.80" x2="147.20" y2="1285.80" stroke="#000" stroke-width="2.2"/>
<text x="134.20" y="1294.20" font-size="24.2" stroke="#000" stroke-width="0.6" stroke-linejoin="round" text-anchor="end">100</text>
<line x1="138.20" y1="1341.40" x2="147.20" y2="1341.40" stroke="#000" stroke-width="2.2"/>
<text x="134.20" y="1349.80" font-size="24.2" stroke="#000" stroke-width="0.6" stroke-linejoin="round" text-anchor="end">50</text>
<line x1="138.20" y1="1397.00" x2="147.20" y2="1397.00" stroke="#000" stroke-width="2.2"/>
<text x="134.20" y="1405.40" font-size="24.2" stroke="#000" stroke-width="0.6" stroke-linejoin="round" text-anchor="end">0</text>
<line x1="147.20" y1="1397.00" x2="147.20" y2="1406.00" stroke="#000" stroke-width="2.2"/>
<text x="147.20" y="1430.30" font-size="23.3" stroke="#000" stroke-width="0.6" stroke-linejoin="round">0</text>
<line x1="185.60" y1="1397.00" x2="185.60" y2="1406.00" stroke="#000" stroke-width="2.2"/>
<text x="185.60" y="1430.30" font-size="23.3" stroke="#000" stroke-width="0.6" stroke-linejoin="round">15</text>
<line x1="223.60" y1="1397.00" x2="223.60" y2="1406.00" stroke="#000" stroke-width="2.2"/>
<text x="223.60" y="1430.30" font-size="23.3" stroke="#000" stroke-width="0.6" stroke-linejoin="round">30</text>
<line x1="300.00" y1="1397.00" x2="300.00" y2="1406.00" stroke="#000" stroke-width="2.2"/>
<text x="300.00" y="1430.30" font-size="23.3" stroke="#000" stroke-width="0.6" stroke-linejoin="round">60</text>
<line x1="453.60" y1="1397.00" x2="453.60" y2="1406.00" stroke="#000" stroke-width="2.2"/>
<text x="453.60" y="1430.30" font-size="23.3" stroke="#000" stroke-width="0.6" stroke-linejoin="round">120</text>
<text x="313.30" y="1451.00" font-size="23.6" stroke="#000" stroke-width="0.6" stroke-linejoin="round">Time (min)</text>
<polyline points="147.20,1316.39 185.60,1321.39 223.60,1303.89 300.00,1302.50 453.60,1295.00" fill="none" stroke="#F93A82" stroke-width="3.6" stroke-linejoin="round"/>
<line x1="147.20" y1="1312.22" x2="147.20" y2="1320.00" stroke="#000" stroke-width="1.7"/>
<line x1="142.80" y1="1312.22" x2="151.60" y2="1312.22" stroke="#000" stroke-width="1.7"/>
<line x1="142.80" y1="1320.00" x2="151.60" y2="1320.00" stroke="#000" stroke-width="1.7"/>
<line x1="185.60" y1="1316.94" x2="185.60" y2="1326.67" stroke="#000" stroke-width="1.7"/>
<line x1="181.20" y1="1316.94" x2="190.00" y2="1316.94" stroke="#000" stroke-width="1.7"/>
<line x1="181.20" y1="1326.67" x2="190.00" y2="1326.67" stroke="#000" stroke-width="1.7"/>
<line x1="223.60" y1="1299.72" x2="223.60" y2="1309.44" stroke="#000" stroke-width="1.7"/>
<line x1="219.20" y1="1299.72" x2="228.00" y2="1299.72" stroke="#000" stroke-width="1.7"/>
<line x1="219.20" y1="1309.44" x2="228.00" y2="1309.44" stroke="#000" stroke-width="1.7"/>
<line x1="300.00" y1="1294.17" x2="300.00" y2="1310.83" stroke="#000" stroke-width="1.7"/>
<line x1="295.60" y1="1294.17" x2="304.40" y2="1294.17" stroke="#000" stroke-width="1.7"/>
<line x1="295.60" y1="1310.83" x2="304.40" y2="1310.83" stroke="#000" stroke-width="1.7"/>
<line x1="453.60" y1="1290.56" x2="453.60" y2="1300.00" stroke="#000" stroke-width="1.7"/>
<line x1="449.20" y1="1290.56" x2="458.00" y2="1290.56" stroke="#000" stroke-width="1.7"/>
<line x1="449.20" y1="1300.00" x2="458.00" y2="1300.00" stroke="#000" stroke-width="1.7"/>
<polygon points="144.00,1313.51 150.40,1313.51 147.20,1319.91" fill="#fff" stroke="#000" stroke-width="1.6" stroke-linejoin="round"/>
<polygon points="182.40,1318.51 188.80,1318.51 185.60,1324.91" fill="#fff" stroke="#000" stroke-width="1.6" stroke-linejoin="round"/>
<polygon points="220.40,1301.01 226.80,1301.01 223.60,1307.41" fill="#fff" stroke="#000" stroke-width="1.6" stroke-linejoin="round"/>
<polygon points="296.80,1299.62 303.20,1299.62 300.00,1306.02" fill="#fff" stroke="#000" stroke-width="1.6" stroke-linejoin="round"/>
<polygon points="450.40,1292.12 456.80,1292.12 453.60,1298.52" fill="#fff" stroke="#000" stroke-width="1.6" stroke-linejoin="round"/>
<polyline points="147.20,1310.83 185.60,1249.17 223.60,1195.83 300.00,1241.67 453.60,1291.94" fill="none" stroke="#000" stroke-width="4.0" stroke-linejoin="round"/>
<line x1="147.20" y1="1306.11" x2="147.20" y2="1315.56" stroke="#000" stroke-width="1.7"/>
<line x1="142.80" y1="1306.11" x2="151.60" y2="1306.11" stroke="#000" stroke-width="1.7"/>
<line x1="142.80" y1="1315.56" x2="151.60" y2="1315.56" stroke="#000" stroke-width="1.7"/>
<line x1="185.60" y1="1236.67" x2="185.60" y2="1261.67" stroke="#000" stroke-width="1.7"/>
<line x1="181.20" y1="1236.67" x2="190.00" y2="1236.67" stroke="#000" stroke-width="1.7"/>
<line x1="181.20" y1="1261.67" x2="190.00" y2="1261.67" stroke="#000" stroke-width="1.7"/>
<line x1="223.60" y1="1185.83" x2="223.60" y2="1205.83" stroke="#000" stroke-width="1.7"/>
<line x1="219.20" y1="1185.83" x2="228.00" y2="1185.83" stroke="#000" stroke-width="1.7"/>
<line x1="219.20" y1="1205.83" x2="228.00" y2="1205.83" stroke="#000" stroke-width="1.7"/>
<line x1="300.00" y1="1232.50" x2="300.00" y2="1250.28" stroke="#000" stroke-width="1.7"/>
<line x1="295.60" y1="1232.50" x2="304.40" y2="1232.50" stroke="#000" stroke-width="1.7"/>
<line x1="295.60" y1="1250.28" x2="304.40" y2="1250.28" stroke="#000" stroke-width="1.7"/>
<line x1="453.60" y1="1287.22" x2="453.60" y2="1296.94" stroke="#000" stroke-width="1.7"/>
<line x1="449.20" y1="1287.22" x2="458.00" y2="1287.22" stroke="#000" stroke-width="1.7"/>
<line x1="449.20" y1="1296.94" x2="458.00" y2="1296.94" stroke="#000" stroke-width="1.7"/>
<circle cx="147.20" cy="1310.83" r="3.7" fill="#fff" stroke="#000" stroke-width="1.6"/>
<circle cx="185.60" cy="1249.17" r="3.7" fill="#fff" stroke="#000" stroke-width="1.6"/>
<circle cx="223.60" cy="1195.83" r="3.7" fill="#fff" stroke="#000" stroke-width="1.6"/>
<circle cx="300.00" cy="1241.67" r="3.7" fill="#fff" stroke="#000" stroke-width="1.6"/>
<circle cx="453.60" cy="1291.94" r="3.7" fill="#fff" stroke="#000" stroke-width="1.6"/>
<text x="185.60" y="1361.97" font-size="43.5" stroke="#000" stroke-width="0.7" stroke-linejoin="round">**</text>
<text x="223.60" y="1345.30" font-size="43.5" stroke="#000" stroke-width="0.7" stroke-linejoin="round">**</text>
<text x="298.60" y="1345.30" font-size="43.5" stroke="#000" stroke-width="0.7" stroke-linejoin="round">**</text>
<line x1="497.30" y1="1192.80" x2="527.10" y2="1192.80" stroke="#000" stroke-width="4.6" stroke-linecap="round"/>
<circle cx="512.20" cy="1192.80" r="3.4" fill="#fff" stroke="#000" stroke-width="1.6"/>
<line x1="497.30" y1="1230.30" x2="527.10" y2="1230.30" stroke="#F93A82" stroke-width="4.2" stroke-linecap="round"/>
<polygon points="509.00,1227.42 515.40,1227.42 512.20,1233.82" fill="#fff" stroke="#000" stroke-width="1.6" stroke-linejoin="round"/>
<text x="541.70" y="1202.00" font-size="28.7" stroke="#000" stroke-width="0.4" stroke-linejoin="round" font-weight="normal" text-anchor="start">Control</text>
<text x="541.20" y="1240.00" font-size="28.7" stroke="#000" stroke-width="0.4" stroke-linejoin="round" font-weight="normal" text-anchor="start">L-Pck1KO</text>
</g>
<g id="panel_f">
<text x="0" y="0" font-size="41" transform="translate(677.80 1135.80) scale(0.98 1)" stroke="#000" stroke-width="0.9" stroke-linejoin="round" text-anchor="start">f</text>
<text x="755.90" y="1142.80" font-size="35" stroke="#000" stroke-width="0.6" stroke-linejoin="round" text-anchor="start">Pyruvate Tolerance Test</text>
<text x="731.50" y="1272.00" font-size="23.6" stroke="#000" stroke-width="0.6" stroke-linejoin="round" transform="rotate(-90 731.50 1272.00)">Blood glucose (mg/dL)</text>
<line x1="795.30" y1="1173.10" x2="795.30" y2="1406.00" stroke="#000" stroke-width="2.2"/>
<line x1="786.30" y1="1397.00" x2="1128.30" y2="1397.00" stroke="#000" stroke-width="2.2"/>
<line x1="786.30" y1="1174.20" x2="795.30" y2="1174.20" stroke="#000" stroke-width="2.2"/>
<text x="782.30" y="1182.60" font-size="24.2" stroke="#000" stroke-width="0.6" stroke-linejoin="round" text-anchor="end">200</text>
<line x1="786.30" y1="1230.30" x2="795.30" y2="1230.30" stroke="#000" stroke-width="2.2"/>
<text x="782.30" y="1238.70" font-size="24.2" stroke="#000" stroke-width="0.6" stroke-linejoin="round" text-anchor="end">150</text>
<line x1="786.30" y1="1285.80" x2="795.30" y2="1285.80" stroke="#000" stroke-width="2.2"/>
<text x="782.30" y="1294.20" font-size="24.2" stroke="#000" stroke-width="0.6" stroke-linejoin="round" text-anchor="end">100</text>
<line x1="786.30" y1="1341.40" x2="795.30" y2="1341.40" stroke="#000" stroke-width="2.2"/>
<text x="782.30" y="1349.80" font-size="24.2" stroke="#000" stroke-width="0.6" stroke-linejoin="round" text-anchor="end">50</text>
<line x1="786.30" y1="1397.00" x2="795.30" y2="1397.00" stroke="#000" stroke-width="2.2"/>
<text x="782.30" y="1405.40" font-size="24.2" stroke="#000" stroke-width="0.6" stroke-linejoin="round" text-anchor="end">0</text>
<line x1="795.30" y1="1397.00" x2="795.30" y2="1406.00" stroke="#000" stroke-width="2.2"/>
<text x="795.30" y="1430.30" font-size="23.3" stroke="#000" stroke-width="0.6" stroke-linejoin="round">0</text>
<line x1="833.90" y1="1397.00" x2="833.90" y2="1406.00" stroke="#000" stroke-width="2.2"/>
<text x="833.90" y="1430.30" font-size="23.3" stroke="#000" stroke-width="0.6" stroke-linejoin="round">15</text>
<line x1="872.20" y1="1397.00" x2="872.20" y2="1406.00" stroke="#000" stroke-width="2.2"/>
<text x="872.20" y="1430.30" font-size="23.3" stroke="#000" stroke-width="0.6" stroke-linejoin="round">30</text>
<line x1="948.60" y1="1397.00" x2="948.60" y2="1406.00" stroke="#000" stroke-width="2.2"/>
<text x="948.60" y="1430.30" font-size="23.3" stroke="#000" stroke-width="0.6" stroke-linejoin="round">60</text>
<line x1="1102.80" y1="1397.00" x2="1102.80" y2="1406.00" stroke="#000" stroke-width="2.2"/>
<text x="1102.80" y="1430.30" font-size="23.3" stroke="#000" stroke-width="0.6" stroke-linejoin="round">120</text>
<text x="962.50" y="1450.50" font-size="23.6" stroke="#000" stroke-width="0.6" stroke-linejoin="round">Time (min)</text>
<polyline points="795.30,1320.56 833.90,1302.50 872.20,1298.33 948.60,1295.56 1102.80,1308.61" fill="none" stroke="#F93A82" stroke-width="3.6" stroke-linejoin="round"/>
<line x1="795.30" y1="1316.39" x2="795.30" y2="1325.28" stroke="#000" stroke-width="1.7"/>
<line x1="790.90" y1="1316.39" x2="799.70" y2="1316.39" stroke="#000" stroke-width="1.7"/>
<line x1="790.90" y1="1325.28" x2="799.70" y2="1325.28" stroke="#000" stroke-width="1.7"/>
<line x1="833.90" y1="1296.11" x2="833.90" y2="1307.22" stroke="#000" stroke-width="1.7"/>
<line x1="829.50" y1="1296.11" x2="838.30" y2="1296.11" stroke="#000" stroke-width="1.7"/>
<line x1="829.50" y1="1307.22" x2="838.30" y2="1307.22" stroke="#000" stroke-width="1.7"/>
<line x1="872.20" y1="1292.22" x2="872.20" y2="1303.89" stroke="#000" stroke-width="1.7"/>
<line x1="867.80" y1="1292.22" x2="876.60" y2="1292.22" stroke="#000" stroke-width="1.7"/>
<line x1="867.80" y1="1303.89" x2="876.60" y2="1303.89" stroke="#000" stroke-width="1.7"/>
<line x1="948.60" y1="1287.78" x2="948.60" y2="1303.33" stroke="#000" stroke-width="1.7"/>
<line x1="944.20" y1="1287.78" x2="953.00" y2="1287.78" stroke="#000" stroke-width="1.7"/>
<line x1="944.20" y1="1303.33" x2="953.00" y2="1303.33" stroke="#000" stroke-width="1.7"/>
<line x1="1102.80" y1="1299.72" x2="1102.80" y2="1317.22" stroke="#000" stroke-width="1.7"/>
<line x1="1098.40" y1="1299.72" x2="1107.20" y2="1299.72" stroke="#000" stroke-width="1.7"/>
<line x1="1098.40" y1="1317.22" x2="1107.20" y2="1317.22" stroke="#000" stroke-width="1.7"/>
<polygon points="792.10,1317.68 798.50,1317.68 795.30,1324.08" fill="#fff" stroke="#000" stroke-width="1.6" stroke-linejoin="round"/>
<polygon points="830.70,1299.62 837.10,1299.62 833.90,1306.02" fill="#fff" stroke="#000" stroke-width="1.6" stroke-linejoin="round"/>
<polygon points="869.00,1295.45 875.40,1295.45 872.20,1301.85" fill="#fff" stroke="#000" stroke-width="1.6" stroke-linejoin="round"/>
<polygon points="945.40,1292.68 951.80,1292.68 948.60,1299.08" fill="#fff" stroke="#000" stroke-width="1.6" stroke-linejoin="round"/>
<polygon points="1099.60,1305.73 1106.00,1305.73 1102.80,1312.13" fill="#fff" stroke="#000" stroke-width="1.6" stroke-linejoin="round"/>
<polyline points="795.30,1306.67 833.90,1239.17 872.20,1198.33 948.60,1242.78 1102.80,1275.28" fill="none" stroke="#000" stroke-width="4.0" stroke-linejoin="round"/>
<line x1="795.30" y1="1302.50" x2="795.30" y2="1310.83" stroke="#000" stroke-width="1.7"/>
<line x1="790.90" y1="1302.50" x2="799.70" y2="1302.50" stroke="#000" stroke-width="1.7"/>
<line x1="790.90" y1="1310.83" x2="799.70" y2="1310.83" stroke="#000" stroke-width="1.7"/>
<line x1="833.90" y1="1229.72" x2="833.90" y2="1248.33" stroke="#000" stroke-width="1.7"/>
<line x1="829.50" y1="1229.72" x2="838.30" y2="1229.72" stroke="#000" stroke-width="1.7"/>
<line x1="829.50" y1="1248.33" x2="838.30" y2="1248.33" stroke="#000" stroke-width="1.7"/>
<line x1="872.20" y1="1190.83" x2="872.20" y2="1205.83" stroke="#000" stroke-width="1.7"/>
<line x1="867.80" y1="1190.83" x2="876.60" y2="1190.83" stroke="#000" stroke-width="1.7"/>
<line x1="867.80" y1="1205.83" x2="876.60" y2="1205.83" stroke="#000" stroke-width="1.7"/>
<line x1="948.60" y1="1230.28" x2="948.60" y2="1255.28" stroke="#000" stroke-width="1.7"/>
<line x1="944.20" y1="1230.28" x2="953.00" y2="1230.28" stroke="#000" stroke-width="1.7"/>
<line x1="944.20" y1="1255.28" x2="953.00" y2="1255.28" stroke="#000" stroke-width="1.7"/>
<line x1="1102.80" y1="1269.72" x2="1102.80" y2="1280.28" stroke="#000" stroke-width="1.7"/>
<line x1="1098.40" y1="1269.72" x2="1107.20" y2="1269.72" stroke="#000" stroke-width="1.7"/>
<line x1="1098.40" y1="1280.28" x2="1107.20" y2="1280.28" stroke="#000" stroke-width="1.7"/>
<circle cx="795.30" cy="1306.67" r="3.7" fill="#fff" stroke="#000" stroke-width="1.6"/>
<circle cx="833.90" cy="1239.17" r="3.7" fill="#fff" stroke="#000" stroke-width="1.6"/>
<circle cx="872.20" cy="1198.33" r="3.7" fill="#fff" stroke="#000" stroke-width="1.6"/>
<circle cx="948.60" cy="1242.78" r="3.7" fill="#fff" stroke="#000" stroke-width="1.6"/>
<circle cx="1102.80" cy="1275.28" r="3.7" fill="#fff" stroke="#000" stroke-width="1.6"/>
<text x="834.70" y="1346.13" font-size="43.5" stroke="#000" stroke-width="0.7" stroke-linejoin="round">**</text>
<text x="872.20" y="1338.35" font-size="43.5" stroke="#000" stroke-width="0.7" stroke-linejoin="round">**</text>
<text x="948.60" y="1339.74" font-size="43.5" stroke="#000" stroke-width="0.7" stroke-linejoin="round">**</text>
<text x="1100.80" y="1352.24" font-size="43.5" stroke="#000" stroke-width="0.7" stroke-linejoin="round">*</text>
</g>
<g id="panel_g">
<text x="0" y="0" font-size="41" transform="translate(1307.30 1145.00) scale(0.98 1)" stroke="#000" stroke-width="0.9" stroke-linejoin="round" text-anchor="start">g</text>
<text x="1380.20" y="1139.80" font-size="35" stroke="#000" stroke-width="0.6" stroke-linejoin="round" text-anchor="start">Alanine Tolerance Test</text>
<text x="1367.80" y="1277.00" font-size="23.6" stroke="#000" stroke-width="0.6" stroke-linejoin="round" transform="rotate(-90 1367.80 1277.00)">Blood glucose (mg/dL)</text>
<line x1="1434.00" y1="1175.90" x2="1434.00" y2="1410.10" stroke="#000" stroke-width="2.2"/>
<line x1="1425.00" y1="1401.10" x2="1770.60" y2="1401.10" stroke="#000" stroke-width="2.2"/>
<line x1="1425.00" y1="1177.00" x2="1434.00" y2="1177.00" stroke="#000" stroke-width="2.2"/>
<text x="1421.00" y="1185.40" font-size="24.2" stroke="#000" stroke-width="0.6" stroke-linejoin="round" text-anchor="end">200</text>
<line x1="1425.00" y1="1233.00" x2="1434.00" y2="1233.00" stroke="#000" stroke-width="2.2"/>
<text x="1421.00" y="1241.40" font-size="24.2" stroke="#000" stroke-width="0.6" stroke-linejoin="round" text-anchor="end">150</text>
<line x1="1425.00" y1="1289.20" x2="1434.00" y2="1289.20" stroke="#000" stroke-width="2.2"/>
<text x="1421.00" y="1297.60" font-size="24.2" stroke="#000" stroke-width="0.6" stroke-linejoin="round" text-anchor="end">100</text>
<line x1="1425.00" y1="1345.00" x2="1434.00" y2="1345.00" stroke="#000" stroke-width="2.2"/>
<text x="1421.00" y="1353.40" font-size="24.2" stroke="#000" stroke-width="0.6" stroke-linejoin="round" text-anchor="end">50</text>
<line x1="1425.00" y1="1401.10" x2="1434.00" y2="1401.10" stroke="#000" stroke-width="2.2"/>
<text x="1421.00" y="1409.50" font-size="24.2" stroke="#000" stroke-width="0.6" stroke-linejoin="round" text-anchor="end">0</text>
<line x1="1434.00" y1="1401.10" x2="1434.00" y2="1410.10" stroke="#000" stroke-width="2.2"/>
<text x="1434.00" y="1435.30" font-size="23.3" stroke="#000" stroke-width="0.6" stroke-linejoin="round">0</text>
<line x1="1472.80" y1="1401.10" x2="1472.80" y2="1410.10" stroke="#000" stroke-width="2.2"/>
<text x="1472.80" y="1435.30" font-size="23.3" stroke="#000" stroke-width="0.6" stroke-linejoin="round">15</text>
<line x1="1511.70" y1="1401.10" x2="1511.70" y2="1410.10" stroke="#000" stroke-width="2.2"/>
<text x="1511.70" y="1435.30" font-size="23.3" stroke="#000" stroke-width="0.6" stroke-linejoin="round">30</text>
<line x1="1589.20" y1="1401.10" x2="1589.20" y2="1410.10" stroke="#000" stroke-width="2.2"/>
<text x="1589.20" y="1435.30" font-size="23.3" stroke="#000" stroke-width="0.6" stroke-linejoin="round">60</text>
<line x1="1744.80" y1="1401.10" x2="1744.80" y2="1410.10" stroke="#000" stroke-width="2.2"/>
<text x="1744.80" y="1435.30" font-size="23.3" stroke="#000" stroke-width="0.6" stroke-linejoin="round">120</text>
<text x="1602.50" y="1458.60" font-size="23.6" stroke="#000" stroke-width="0.6" stroke-linejoin="round">Time (min)</text>
<polyline points="1434.00,1324.72 1472.80,1292.78 1511.70,1291.94 1589.20,1296.11 1744.80,1278.89" fill="none" stroke="#F93A82" stroke-width="3.6" stroke-linejoin="round"/>
<line x1="1511.70" y1="1287.22" x2="1511.70" y2="1296.94" stroke="#000" stroke-width="1.7"/>
<line x1="1507.30" y1="1287.22" x2="1516.10" y2="1287.22" stroke="#000" stroke-width="1.7"/>
<line x1="1507.30" y1="1296.94" x2="1516.10" y2="1296.94" stroke="#000" stroke-width="1.7"/>
<line x1="1589.20" y1="1290.00" x2="1589.20" y2="1301.94" stroke="#000" stroke-width="1.7"/>
<line x1="1584.80" y1="1290.00" x2="1593.60" y2="1290.00" stroke="#000" stroke-width="1.7"/>
<line x1="1584.80" y1="1301.94" x2="1593.60" y2="1301.94" stroke="#000" stroke-width="1.7"/>
<line x1="1744.80" y1="1273.33" x2="1744.80" y2="1284.44" stroke="#000" stroke-width="1.7"/>
<line x1="1740.40" y1="1273.33" x2="1749.20" y2="1273.33" stroke="#000" stroke-width="1.7"/>
<line x1="1740.40" y1="1284.44" x2="1749.20" y2="1284.44" stroke="#000" stroke-width="1.7"/>
<polygon points="1430.80,1321.84 1437.20,1321.84 1434.00,1328.24" fill="#fff" stroke="#000" stroke-width="1.6" stroke-linejoin="round"/>
<polygon points="1469.60,1289.90 1476.00,1289.90 1472.80,1296.30" fill="#fff" stroke="#000" stroke-width="1.6" stroke-linejoin="round"/>
<polygon points="1508.50,1289.06 1514.90,1289.06 1511.70,1295.46" fill="#fff" stroke="#000" stroke-width="1.6" stroke-linejoin="round"/>
<polygon points="1586.00,1293.23 1592.40,1293.23 1589.20,1299.63" fill="#fff" stroke="#000" stroke-width="1.6" stroke-linejoin="round"/>
<polygon points="1741.60,1276.01 1748.00,1276.01 1744.80,1282.41" fill="#fff" stroke="#000" stroke-width="1.6" stroke-linejoin="round"/>
<polyline points="1434.00,1319.72 1472.80,1265.56 1511.70,1248.33 1589.20,1239.72 1744.80,1263.33" fill="none" stroke="#000" stroke-width="4.0" stroke-linejoin="round"/>
<line x1="1511.70" y1="1244.17" x2="1511.70" y2="1252.50" stroke="#000" stroke-width="1.7"/>
<line x1="1507.30" y1="1244.17" x2="1516.10" y2="1244.17" stroke="#000" stroke-width="1.7"/>
<line x1="1507.30" y1="1252.50" x2="1516.10" y2="1252.50" stroke="#000" stroke-width="1.7"/>
<line x1="1589.20" y1="1234.44" x2="1589.20" y2="1245.00" stroke="#000" stroke-width="1.7"/>
<line x1="1584.80" y1="1234.44" x2="1593.60" y2="1234.44" stroke="#000" stroke-width="1.7"/>
<line x1="1584.80" y1="1245.00" x2="1593.60" y2="1245.00" stroke="#000" stroke-width="1.7"/>
<line x1="1744.80" y1="1251.11" x2="1744.80" y2="1274.72" stroke="#000" stroke-width="1.7"/>
<line x1="1740.40" y1="1251.11" x2="1749.20" y2="1251.11" stroke="#000" stroke-width="1.7"/>
<line x1="1740.40" y1="1274.72" x2="1749.20" y2="1274.72" stroke="#000" stroke-width="1.7"/>
<circle cx="1434.00" cy="1319.72" r="3.7" fill="#fff" stroke="#000" stroke-width="1.6"/>
<circle cx="1472.80" cy="1265.56" r="3.7" fill="#fff" stroke="#000" stroke-width="1.6"/>
<circle cx="1511.70" cy="1248.33" r="3.7" fill="#fff" stroke="#000" stroke-width="1.6"/>
<circle cx="1589.20" cy="1239.72" r="3.7" fill="#fff" stroke="#000" stroke-width="1.6"/>
<circle cx="1744.80" cy="1263.33" r="3.7" fill="#fff" stroke="#000" stroke-width="1.6"/>
<text x="1474.20" y="1341.69" font-size="43.5" stroke="#000" stroke-width="0.7" stroke-linejoin="round">**</text>
<text x="1510.90" y="1334.19" font-size="43.5" stroke="#000" stroke-width="0.7" stroke-linejoin="round">**</text>
<text x="1589.20" y="1337.80" font-size="43.5" stroke="#000" stroke-width="0.7" stroke-linejoin="round">**</text>
</g>
<g id="panel_h">
<text x="0" y="0" font-size="41" transform="translate(5.00 1505.60) scale(0.98 1)" stroke="#000" stroke-width="0.9" stroke-linejoin="round" text-anchor="start">h</text>
<text x="107.30" y="1499.20" font-size="35" stroke="#000" stroke-width="0.6" stroke-linejoin="round" text-anchor="start">Glycerol Tolerance Test</text>
<text x="83.50" y="1630.00" font-size="23.6" stroke="#000" stroke-width="0.6" stroke-linejoin="round" transform="rotate(-90 83.50 1630.00)">Blood glucose (mg/dL)</text>
<line x1="153.30" y1="1521.70" x2="153.30" y2="1754.00" stroke="#000" stroke-width="2.2"/>
<line x1="144.30" y1="1745.00" x2="486.00" y2="1745.00" stroke="#000" stroke-width="2.2"/>
<line x1="144.30" y1="1522.80" x2="153.30" y2="1522.80" stroke="#000" stroke-width="2.2"/>
<text x="140.30" y="1531.20" font-size="24.2" stroke="#000" stroke-width="0.6" stroke-linejoin="round" text-anchor="end">250</text>
<line x1="144.30" y1="1567.50" x2="153.30" y2="1567.50" stroke="#000" stroke-width="2.2"/>
<text x="140.30" y="1575.90" font-size="24.2" stroke="#000" stroke-width="0.6" stroke-linejoin="round" text-anchor="end">200</text>
<line x1="144.30" y1="1611.70" x2="153.30" y2="1611.70" stroke="#000" stroke-width="2.2"/>
<text x="140.30" y="1620.10" font-size="24.2" stroke="#000" stroke-width="0.6" stroke-linejoin="round" text-anchor="end">150</text>
<line x1="144.30" y1="1656.10" x2="153.30" y2="1656.10" stroke="#000" stroke-width="2.2"/>
<text x="140.30" y="1664.50" font-size="24.2" stroke="#000" stroke-width="0.6" stroke-linejoin="round" text-anchor="end">100</text>
<line x1="144.30" y1="1700.60" x2="153.30" y2="1700.60" stroke="#000" stroke-width="2.2"/>
<text x="140.30" y="1709.00" font-size="24.2" stroke="#000" stroke-width="0.6" stroke-linejoin="round" text-anchor="end">50</text>
<line x1="144.30" y1="1745.00" x2="153.30" y2="1745.00" stroke="#000" stroke-width="2.2"/>
<text x="140.30" y="1753.40" font-size="24.2" stroke="#000" stroke-width="0.6" stroke-linejoin="round" text-anchor="end">0</text>
<line x1="153.30" y1="1745.00" x2="153.30" y2="1754.00" stroke="#000" stroke-width="2.2"/>
<text x="153.30" y="1779.00" font-size="23.3" stroke="#000" stroke-width="0.6" stroke-linejoin="round">0</text>
<line x1="191.10" y1="1745.00" x2="191.10" y2="1754.00" stroke="#000" stroke-width="2.2"/>
<text x="191.10" y="1779.00" font-size="23.3" stroke="#000" stroke-width="0.6" stroke-linejoin="round">15</text>
<line x1="229.40" y1="1745.00" x2="229.40" y2="1754.00" stroke="#000" stroke-width="2.2"/>
<text x="229.40" y="1779.00" font-size="23.3" stroke="#000" stroke-width="0.6" stroke-linejoin="round">30</text>
<line x1="306.40" y1="1745.00" x2="306.40" y2="1754.00" stroke="#000" stroke-width="2.2"/>
<text x="306.40" y="1779.00" font-size="23.3" stroke="#000" stroke-width="0.6" stroke-linejoin="round">60</text>
<line x1="461.10" y1="1745.00" x2="461.10" y2="1754.00" stroke="#000" stroke-width="2.2"/>
<text x="461.10" y="1779.00" font-size="23.3" stroke="#000" stroke-width="0.6" stroke-linejoin="round">120</text>
<text x="319.40" y="1798.60" font-size="23.6" stroke="#000" stroke-width="0.6" stroke-linejoin="round">Time (min)</text>
<polyline points="153.30,1659.72 191.10,1627.78 229.40,1607.78 306.40,1598.61 461.10,1643.61" fill="none" stroke="#8FE1FA" stroke-width="3.6" stroke-linejoin="round"/>
<line x1="153.30" y1="1654.17" x2="153.30" y2="1665.28" stroke="#000" stroke-width="1.7"/>
<line x1="148.90" y1="1654.17" x2="157.70" y2="1654.17" stroke="#000" stroke-width="1.7"/>
<line x1="148.90" y1="1665.28" x2="157.70" y2="1665.28" stroke="#000" stroke-width="1.7"/>
<line x1="191.10" y1="1620.83" x2="191.10" y2="1636.11" stroke="#000" stroke-width="1.7"/>
<line x1="186.70" y1="1620.83" x2="195.50" y2="1620.83" stroke="#000" stroke-width="1.7"/>
<line x1="186.70" y1="1636.11" x2="195.50" y2="1636.11" stroke="#000" stroke-width="1.7"/>
<line x1="229.40" y1="1602.22" x2="229.40" y2="1612.50" stroke="#000" stroke-width="1.7"/>
<line x1="225.00" y1="1602.22" x2="233.80" y2="1602.22" stroke="#000" stroke-width="1.7"/>
<line x1="225.00" y1="1612.50" x2="233.80" y2="1612.50" stroke="#000" stroke-width="1.7"/>
<line x1="306.40" y1="1593.06" x2="306.40" y2="1604.17" stroke="#000" stroke-width="1.7"/>
<line x1="302.00" y1="1593.06" x2="310.80" y2="1593.06" stroke="#000" stroke-width="1.7"/>
<line x1="302.00" y1="1604.17" x2="310.80" y2="1604.17" stroke="#000" stroke-width="1.7"/>
<line x1="461.10" y1="1638.89" x2="461.10" y2="1648.61" stroke="#000" stroke-width="1.7"/>
<line x1="456.70" y1="1638.89" x2="465.50" y2="1638.89" stroke="#000" stroke-width="1.7"/>
<line x1="456.70" y1="1648.61" x2="465.50" y2="1648.61" stroke="#000" stroke-width="1.7"/>
<polygon points="150.10,1662.60 156.50,1662.60 153.30,1656.20" fill="#fff" stroke="#000" stroke-width="1.6" stroke-linejoin="round"/>
<polygon points="187.90,1630.66 194.30,1630.66 191.10,1624.26" fill="#fff" stroke="#000" stroke-width="1.6" stroke-linejoin="round"/>
<polygon points="226.20,1610.66 232.60,1610.66 229.40,1604.26" fill="#fff" stroke="#000" stroke-width="1.6" stroke-linejoin="round"/>
<polygon points="303.20,1601.49 309.60,1601.49 306.40,1595.09" fill="#fff" stroke="#000" stroke-width="1.6" stroke-linejoin="round"/>
<polygon points="457.90,1646.49 464.30,1646.49 461.10,1640.09" fill="#fff" stroke="#000" stroke-width="1.6" stroke-linejoin="round"/>
<polyline points="153.30,1663.33 191.10,1618.06 229.40,1576.94 306.40,1599.17 461.10,1650.56" fill="none" stroke="#000" stroke-width="4.0" stroke-linejoin="round"/>
<line x1="153.30" y1="1658.33" x2="153.30" y2="1668.06" stroke="#000" stroke-width="1.7"/>
<line x1="148.90" y1="1658.33" x2="157.70" y2="1658.33" stroke="#000" stroke-width="1.7"/>
<line x1="148.90" y1="1668.06" x2="157.70" y2="1668.06" stroke="#000" stroke-width="1.7"/>
<line x1="191.10" y1="1606.94" x2="191.10" y2="1629.17" stroke="#000" stroke-width="1.7"/>
<line x1="186.70" y1="1606.94" x2="195.50" y2="1606.94" stroke="#000" stroke-width="1.7"/>
<line x1="186.70" y1="1629.17" x2="195.50" y2="1629.17" stroke="#000" stroke-width="1.7"/>
<line x1="229.40" y1="1570.28" x2="229.40" y2="1582.78" stroke="#000" stroke-width="1.7"/>
<line x1="225.00" y1="1570.28" x2="233.80" y2="1570.28" stroke="#000" stroke-width="1.7"/>
<line x1="225.00" y1="1582.78" x2="233.80" y2="1582.78" stroke="#000" stroke-width="1.7"/>
<line x1="306.40" y1="1591.67" x2="306.40" y2="1606.11" stroke="#000" stroke-width="1.7"/>
<line x1="302.00" y1="1591.67" x2="310.80" y2="1591.67" stroke="#000" stroke-width="1.7"/>
<line x1="302.00" y1="1606.11" x2="310.80" y2="1606.11" stroke="#000" stroke-width="1.7"/>
<line x1="461.10" y1="1645.00" x2="461.10" y2="1656.39" stroke="#000" stroke-width="1.7"/>
<line x1="456.70" y1="1645.00" x2="465.50" y2="1645.00" stroke="#000" stroke-width="1.7"/>
<line x1="456.70" y1="1656.39" x2="465.50" y2="1656.39" stroke="#000" stroke-width="1.7"/>
<circle cx="153.30" cy="1663.33" r="3.7" fill="#fff" stroke="#000" stroke-width="1.6"/>
<circle cx="191.10" cy="1618.06" r="3.7" fill="#fff" stroke="#000" stroke-width="1.6"/>
<circle cx="229.40" cy="1576.94" r="3.7" fill="#fff" stroke="#000" stroke-width="1.6"/>
<circle cx="306.40" cy="1599.17" r="3.7" fill="#fff" stroke="#000" stroke-width="1.6"/>
<circle cx="461.10" cy="1650.56" r="3.7" fill="#fff" stroke="#000" stroke-width="1.6"/>
<text x="229.40" y="1652.52" font-size="43.5" stroke="#000" stroke-width="0.7" stroke-linejoin="round">**</text>
<line x1="475.90" y1="1562.00" x2="509.10" y2="1562.00" stroke="#000" stroke-width="5.06" stroke-linecap="round"/>
<circle cx="492.50" cy="1562.00" r="3.74" fill="#fff" stroke="#000" stroke-width="1.6"/>
<line x1="475.90" y1="1602.80" x2="509.10" y2="1602.80" stroke="#8FE1FA" stroke-width="4.620000000000001" stroke-linecap="round"/>
<polygon points="488.98,1605.97 496.02,1605.97 492.50,1598.93" fill="#fff" stroke="#000" stroke-width="1.6" stroke-linejoin="round"/>
<text x="524.50" y="1572.50" font-size="31.2" stroke="#000" stroke-width="0.4" stroke-linejoin="round" font-weight="normal" text-anchor="start">Control</text>
<text x="524.00" y="1612.80" font-size="31.2" stroke="#000" stroke-width="0.4" stroke-linejoin="round" font-weight="normal" text-anchor="start">L-GykKO</text>
</g>
<g id="panel_i">
<text x="0" y="0" font-size="41" transform="translate(679.00 1505.60) scale(0.98 1)" stroke="#000" stroke-width="0.9" stroke-linejoin="round" text-anchor="start">i</text>
<text x="785.10" y="1500.00" font-size="35" stroke="#000" stroke-width="0.6" stroke-linejoin="round" text-anchor="start">DHA Tolerance Test</text>
<text x="738.00" y="1625.00" font-size="23.6" stroke="#000" stroke-width="0.6" stroke-linejoin="round" transform="rotate(-90 738.00 1625.00)">Blood glucose (mg/dL)</text>
<line x1="806.10" y1="1516.90" x2="806.10" y2="1747.90" stroke="#000" stroke-width="2.2"/>
<line x1="797.10" y1="1738.90" x2="1134.70" y2="1738.90" stroke="#000" stroke-width="2.2"/>
<line x1="797.10" y1="1518.00" x2="806.10" y2="1518.00" stroke="#000" stroke-width="2.2"/>
<text x="793.10" y="1526.40" font-size="24.2" stroke="#000" stroke-width="0.6" stroke-linejoin="round" text-anchor="end">200</text>
<line x1="797.10" y1="1573.30" x2="806.10" y2="1573.30" stroke="#000" stroke-width="2.2"/>
<text x="793.10" y="1581.70" font-size="24.2" stroke="#000" stroke-width="0.6" stroke-linejoin="round" text-anchor="end">150</text>
<line x1="797.10" y1="1628.30" x2="806.10" y2="1628.30" stroke="#000" stroke-width="2.2"/>
<text x="793.10" y="1636.70" font-size="24.2" stroke="#000" stroke-width="0.6" stroke-linejoin="round" text-anchor="end">100</text>
<line x1="797.10" y1="1683.30" x2="806.10" y2="1683.30" stroke="#000" stroke-width="2.2"/>
<text x="793.10" y="1691.70" font-size="24.2" stroke="#000" stroke-width="0.6" stroke-linejoin="round" text-anchor="end">50</text>
<line x1="797.10" y1="1738.90" x2="806.10" y2="1738.90" stroke="#000" stroke-width="2.2"/>
<text x="793.10" y="1747.30" font-size="24.2" stroke="#000" stroke-width="0.6" stroke-linejoin="round" text-anchor="end">0</text>
<line x1="806.10" y1="1738.90" x2="806.10" y2="1747.90" stroke="#000" stroke-width="2.2"/>
<text x="806.10" y="1772.20" font-size="23.3" stroke="#000" stroke-width="0.6" stroke-linejoin="round">0</text>
<line x1="843.90" y1="1738.90" x2="843.90" y2="1747.90" stroke="#000" stroke-width="2.2"/>
<text x="843.90" y="1772.20" font-size="23.3" stroke="#000" stroke-width="0.6" stroke-linejoin="round">15</text>
<line x1="881.90" y1="1738.90" x2="881.90" y2="1747.90" stroke="#000" stroke-width="2.2"/>
<text x="881.90" y="1772.20" font-size="23.3" stroke="#000" stroke-width="0.6" stroke-linejoin="round">30</text>
<line x1="957.50" y1="1738.90" x2="957.50" y2="1747.90" stroke="#000" stroke-width="2.2"/>
<text x="957.50" y="1772.20" font-size="23.3" stroke="#000" stroke-width="0.6" stroke-linejoin="round">60</text>
<line x1="1109.70" y1="1738.90" x2="1109.70" y2="1747.90" stroke="#000" stroke-width="2.2"/>
<text x="1109.70" y="1772.20" font-size="23.3" stroke="#000" stroke-width="0.6" stroke-linejoin="round">120</text>
<text x="970.80" y="1804.20" font-size="23.6" stroke="#000" stroke-width="0.6" stroke-linejoin="round">Time (min)</text>
<polyline points="806.10,1645.83 843.90,1570.00 881.90,1569.44 957.50,1590.28 1109.70,1618.06" fill="none" stroke="#8FE1FA" stroke-width="3.6" stroke-linejoin="round"/>
<line x1="806.10" y1="1641.67" x2="806.10" y2="1650.00" stroke="#000" stroke-width="1.7"/>
<line x1="801.70" y1="1641.67" x2="810.50" y2="1641.67" stroke="#000" stroke-width="1.7"/>
<line x1="801.70" y1="1650.00" x2="810.50" y2="1650.00" stroke="#000" stroke-width="1.7"/>
<line x1="843.90" y1="1556.94" x2="843.90" y2="1583.33" stroke="#000" stroke-width="1.7"/>
<line x1="839.50" y1="1556.94" x2="848.30" y2="1556.94" stroke="#000" stroke-width="1.7"/>
<line x1="839.50" y1="1583.33" x2="848.30" y2="1583.33" stroke="#000" stroke-width="1.7"/>
<line x1="881.90" y1="1556.39" x2="881.90" y2="1582.78" stroke="#000" stroke-width="1.7"/>
<line x1="877.50" y1="1556.39" x2="886.30" y2="1556.39" stroke="#000" stroke-width="1.7"/>
<line x1="877.50" y1="1582.78" x2="886.30" y2="1582.78" stroke="#000" stroke-width="1.7"/>
<line x1="957.50" y1="1580.56" x2="957.50" y2="1600.00" stroke="#000" stroke-width="1.7"/>
<line x1="953.10" y1="1580.56" x2="961.90" y2="1580.56" stroke="#000" stroke-width="1.7"/>
<line x1="953.10" y1="1600.00" x2="961.90" y2="1600.00" stroke="#000" stroke-width="1.7"/>
<line x1="1109.70" y1="1612.50" x2="1109.70" y2="1623.61" stroke="#000" stroke-width="1.7"/>
<line x1="1105.30" y1="1612.50" x2="1114.10" y2="1612.50" stroke="#000" stroke-width="1.7"/>
<line x1="1105.30" y1="1623.61" x2="1114.10" y2="1623.61" stroke="#000" stroke-width="1.7"/>
<polygon points="802.90,1648.71 809.30,1648.71 806.10,1642.31" fill="#fff" stroke="#000" stroke-width="1.6" stroke-linejoin="round"/>
<polygon points="840.70,1572.88 847.10,1572.88 843.90,1566.48" fill="#fff" stroke="#000" stroke-width="1.6" stroke-linejoin="round"/>
<polygon points="878.70,1572.32 885.10,1572.32 881.90,1565.92" fill="#fff" stroke="#000" stroke-width="1.6" stroke-linejoin="round"/>
<polygon points="954.30,1593.16 960.70,1593.16 957.50,1586.76" fill="#fff" stroke="#000" stroke-width="1.6" stroke-linejoin="round"/>
<polygon points="1106.50,1620.94 1112.90,1620.94 1109.70,1614.54" fill="#fff" stroke="#000" stroke-width="1.6" stroke-linejoin="round"/>
<polyline points="806.10,1649.17 843.90,1571.67 881.90,1577.78 957.50,1609.72 1109.70,1624.17" fill="none" stroke="#000" stroke-width="4.0" stroke-linejoin="round"/>
<line x1="806.10" y1="1638.89" x2="806.10" y2="1659.17" stroke="#000" stroke-width="1.7"/>
<line x1="801.70" y1="1638.89" x2="810.50" y2="1638.89" stroke="#000" stroke-width="1.7"/>
<line x1="801.70" y1="1659.17" x2="810.50" y2="1659.17" stroke="#000" stroke-width="1.7"/>
<line x1="843.90" y1="1558.33" x2="843.90" y2="1586.67" stroke="#000" stroke-width="1.7"/>
<line x1="839.50" y1="1558.33" x2="848.30" y2="1558.33" stroke="#000" stroke-width="1.7"/>
<line x1="839.50" y1="1586.67" x2="848.30" y2="1586.67" stroke="#000" stroke-width="1.7"/>
<line x1="881.90" y1="1564.44" x2="881.90" y2="1591.11" stroke="#000" stroke-width="1.7"/>
<line x1="877.50" y1="1564.44" x2="886.30" y2="1564.44" stroke="#000" stroke-width="1.7"/>
<line x1="877.50" y1="1591.11" x2="886.30" y2="1591.11" stroke="#000" stroke-width="1.7"/>
<line x1="957.50" y1="1600.00" x2="957.50" y2="1619.44" stroke="#000" stroke-width="1.7"/>
<line x1="953.10" y1="1600.00" x2="961.90" y2="1600.00" stroke="#000" stroke-width="1.7"/>
<line x1="953.10" y1="1619.44" x2="961.90" y2="1619.44" stroke="#000" stroke-width="1.7"/>
<line x1="1109.70" y1="1612.50" x2="1109.70" y2="1635.56" stroke="#000" stroke-width="1.7"/>
<line x1="1105.30" y1="1612.50" x2="1114.10" y2="1612.50" stroke="#000" stroke-width="1.7"/>
<line x1="1105.30" y1="1635.56" x2="1114.10" y2="1635.56" stroke="#000" stroke-width="1.7"/>
<circle cx="806.10" cy="1649.17" r="3.7" fill="#fff" stroke="#000" stroke-width="1.6"/>
<circle cx="843.90" cy="1571.67" r="3.7" fill="#fff" stroke="#000" stroke-width="1.6"/>
<circle cx="881.90" cy="1577.78" r="3.7" fill="#fff" stroke="#000" stroke-width="1.6"/>
<circle cx="957.50" cy="1609.72" r="3.7" fill="#fff" stroke="#000" stroke-width="1.6"/>
<circle cx="1109.70" cy="1624.17" r="3.7" fill="#fff" stroke="#000" stroke-width="1.6"/>
</g>
<g id="panel_j">
<text x="0" y="0" font-size="41" transform="translate(3.00 1848.60) scale(0.98 1)" stroke="#000" stroke-width="0.9" stroke-linejoin="round" text-anchor="start">j</text>
<text x="133.00" y="1984.50" font-size="26.3" stroke="#000" stroke-width="0.6" stroke-linejoin="round" transform="rotate(-90 133.00 1984.50)">Liver [NADH]/[NAD<tspan font-size="17" dy="-10">+</tspan><tspan dy="10">] ratio</tspan></text>
<rect x="229.00" y="2048.76" width="65.10" height="74.84" fill="#fff" stroke="#000" stroke-width="2.4"/>
<rect x="331.80" y="2024.31" width="65.60" height="99.29" fill="#F93A82" stroke="#000" stroke-width="2.4"/>
<line x1="261.55" y1="2023.61" x2="261.55" y2="2070.83" stroke="#000" stroke-width="2.35"/>
<line x1="243.55" y1="2023.61" x2="279.55" y2="2023.61" stroke="#000" stroke-width="2.35"/>
<line x1="243.55" y1="2070.83" x2="279.55" y2="2070.83" stroke="#000" stroke-width="2.35"/>
<line x1="364.60" y1="1999.44" x2="364.60" y2="2046.39" stroke="#000" stroke-width="2.35"/>
<line x1="346.60" y1="1999.44" x2="382.60" y2="1999.44" stroke="#000" stroke-width="2.35"/>
<line x1="346.60" y1="2046.39" x2="382.60" y2="2046.39" stroke="#000" stroke-width="2.35"/>
<line x1="193.60" y1="1881.33" x2="193.60" y2="2124.78" stroke="#000" stroke-width="2.35"/>
<line x1="183.60" y1="2123.60" x2="433.30" y2="2123.60" stroke="#000" stroke-width="2.35"/>
<line x1="183.60" y1="1882.50" x2="193.60" y2="1882.50" stroke="#000" stroke-width="2.35"/>
<text x="178.30" y="1891.60" font-size="26" stroke="#000" stroke-width="0.6" stroke-linejoin="round" text-anchor="end">1.5</text>
<line x1="183.60" y1="1963.00" x2="193.60" y2="1963.00" stroke="#000" stroke-width="2.35"/>
<text x="178.30" y="1972.10" font-size="26" stroke="#000" stroke-width="0.6" stroke-linejoin="round" text-anchor="end">1.0</text>
<line x1="183.60" y1="2043.60" x2="193.60" y2="2043.60" stroke="#000" stroke-width="2.35"/>
<text x="178.30" y="2052.70" font-size="26" stroke="#000" stroke-width="0.6" stroke-linejoin="round" text-anchor="end">0.5</text>
<line x1="183.60" y1="2123.60" x2="193.60" y2="2123.60" stroke="#000" stroke-width="2.35"/>
<text x="178.30" y="2132.70" font-size="26" stroke="#000" stroke-width="0.6" stroke-linejoin="round" text-anchor="end">0.0</text>
<line x1="261.55" y1="2123.60" x2="261.55" y2="2133.60" stroke="#000" stroke-width="2.35"/>
<text x="259.70" y="2158.30" font-size="22.8" stroke="#000" stroke-width="0.6" stroke-linejoin="round">Control</text>
<line x1="364.60" y1="2123.60" x2="364.60" y2="2133.60" stroke="#000" stroke-width="2.35"/>
<text x="363.90" y="2158.30" font-size="22.8" stroke="#000" stroke-width="0.6" stroke-linejoin="round">L-Pck1KO</text>
<circle cx="261.94" cy="1927.78" r="3.5" fill="#fff" stroke="#000" stroke-width="1.3"/>
<circle cx="261.94" cy="2007.22" r="3.5" fill="#fff" stroke="#000" stroke-width="1.3"/>
<circle cx="261.94" cy="2054.72" r="3.5" fill="#fff" stroke="#000" stroke-width="1.3"/>
<circle cx="261.94" cy="2065.28" r="3.5" fill="#fff" stroke="#000" stroke-width="1.3"/>
<circle cx="261.94" cy="2073.06" r="3.5" fill="#fff" stroke="#000" stroke-width="1.3"/>
<circle cx="261.94" cy="2094.44" r="3.5" fill="#fff" stroke="#000" stroke-width="1.3"/>
<circle cx="261.94" cy="2109.17" r="3.5" fill="#fff" stroke="#000" stroke-width="1.3"/>
<polygon points="361.42,1907.31 368.02,1907.31 364.72,1913.91" fill="#fff" stroke="#000" stroke-width="1.3" stroke-linejoin="round"/>
<polygon points="361.42,1972.31 368.02,1972.31 364.72,1978.91" fill="#fff" stroke="#000" stroke-width="1.3" stroke-linejoin="round"/>
<polygon points="361.42,2007.31 368.02,2007.31 364.72,2013.91" fill="#fff" stroke="#000" stroke-width="1.3" stroke-linejoin="round"/>
<polygon points="354.20,2051.20 360.80,2051.20 357.50,2057.80" fill="#fff" stroke="#000" stroke-width="1.3" stroke-linejoin="round"/>
<polygon points="368.92,2048.42 375.52,2048.42 372.22,2055.02" fill="#fff" stroke="#000" stroke-width="1.3" stroke-linejoin="round"/>
<polygon points="361.42,2069.81 368.02,2069.81 364.72,2076.41" fill="#fff" stroke="#000" stroke-width="1.3" stroke-linejoin="round"/>
<polygon points="361.42,2078.97 368.02,2078.97 364.72,2085.57" fill="#fff" stroke="#000" stroke-width="1.3" stroke-linejoin="round"/>
<polyline points="261.11,1896.40 261.11,1881.40 364.72,1881.40 364.72,1896.40" fill="none" stroke="#000" stroke-width="2.35"/>
<text x="313.00" y="1868.00" font-size="27.8" stroke="#000" stroke-width="0.4" stroke-linejoin="round" font-weight="normal">ns</text>
</g>
<g id="panel_k">
<text x="0" y="0" font-size="41" transform="translate(678.00 1847.80) scale(0.98 1)" stroke="#000" stroke-width="0.9" stroke-linejoin="round" text-anchor="start">k</text>
<text x="769.00" y="1994.40" font-size="26.3" stroke="#000" stroke-width="0.6" stroke-linejoin="round" transform="rotate(-90 769.00 1994.40)">Liver [lactate] level</text>
<text x="800.00" y="1994.40" font-size="26.3" stroke="#000" stroke-width="0.6" stroke-linejoin="round" transform="rotate(-90 800.00 1994.40)">(µmol/g tissue)</text>
<rect x="880.60" y="2054.03" width="65.70" height="68.17" fill="#fff" stroke="#000" stroke-width="2.4"/>
<rect x="986.20" y="1991.53" width="66.50" height="130.67" fill="#F93A82" stroke="#000" stroke-width="2.4"/>
<line x1="913.45" y1="2047.22" x2="913.45" y2="2058.33" stroke="#000" stroke-width="2.35"/>
<line x1="895.45" y1="2047.22" x2="931.45" y2="2047.22" stroke="#000" stroke-width="2.35"/>
<line x1="895.45" y1="2058.33" x2="931.45" y2="2058.33" stroke="#000" stroke-width="2.35"/>
<line x1="1019.45" y1="1976.39" x2="1019.45" y2="2003.61" stroke="#000" stroke-width="2.35"/>
<line x1="1001.45" y1="1976.39" x2="1037.45" y2="1976.39" stroke="#000" stroke-width="2.35"/>
<line x1="1001.45" y1="2003.61" x2="1037.45" y2="2003.61" stroke="#000" stroke-width="2.35"/>
<line x1="843.30" y1="1873.83" x2="843.30" y2="2123.38" stroke="#000" stroke-width="2.35"/>
<line x1="833.30" y1="2122.20" x2="1090.00" y2="2122.20" stroke="#000" stroke-width="2.35"/>
<line x1="833.30" y1="1875.00" x2="843.30" y2="1875.00" stroke="#000" stroke-width="2.35"/>
<text x="828.00" y="1884.10" font-size="26" stroke="#000" stroke-width="0.6" stroke-linejoin="round" text-anchor="end">3</text>
<line x1="833.30" y1="1957.50" x2="843.30" y2="1957.50" stroke="#000" stroke-width="2.35"/>
<text x="828.00" y="1966.60" font-size="26" stroke="#000" stroke-width="0.6" stroke-linejoin="round" text-anchor="end">2</text>
<line x1="833.30" y1="2039.70" x2="843.30" y2="2039.70" stroke="#000" stroke-width="2.35"/>
<text x="828.00" y="2048.80" font-size="26" stroke="#000" stroke-width="0.6" stroke-linejoin="round" text-anchor="end">1</text>
<line x1="833.30" y1="2122.20" x2="843.30" y2="2122.20" stroke="#000" stroke-width="2.35"/>
<text x="828.00" y="2131.30" font-size="26" stroke="#000" stroke-width="0.6" stroke-linejoin="round" text-anchor="end">0</text>
<line x1="913.45" y1="2122.20" x2="913.45" y2="2132.20" stroke="#000" stroke-width="2.35"/>
<text x="911.00" y="2158.30" font-size="22.8" stroke="#000" stroke-width="0.6" stroke-linejoin="round">Control</text>
<line x1="1019.45" y1="2122.20" x2="1019.45" y2="2132.20" stroke="#000" stroke-width="2.35"/>
<text x="1018.30" y="2158.30" font-size="22.8" stroke="#000" stroke-width="0.6" stroke-linejoin="round">L-Pck1KO</text>
<circle cx="913.33" cy="2032.78" r="3.5" fill="#fff" stroke="#000" stroke-width="1.3"/>
<circle cx="913.33" cy="2041.67" r="3.5" fill="#fff" stroke="#000" stroke-width="1.3"/>
<circle cx="891.39" cy="2051.39" r="3.5" fill="#fff" stroke="#000" stroke-width="1.3"/>
<circle cx="905.83" cy="2054.72" r="3.5" fill="#fff" stroke="#000" stroke-width="1.3"/>
<circle cx="921.11" cy="2057.78" r="3.5" fill="#fff" stroke="#000" stroke-width="1.3"/>
<circle cx="935.00" cy="2053.33" r="3.5" fill="#fff" stroke="#000" stroke-width="1.3"/>
<circle cx="913.33" cy="2077.22" r="3.5" fill="#fff" stroke="#000" stroke-width="1.3"/>
<polygon points="1016.42,1910.92 1023.02,1910.92 1019.72,1917.52" fill="#fff" stroke="#000" stroke-width="1.3" stroke-linejoin="round"/>
<polygon points="1016.42,1974.81 1023.02,1974.81 1019.72,1981.41" fill="#fff" stroke="#000" stroke-width="1.3" stroke-linejoin="round"/>
<polygon points="1001.14,1999.25 1007.74,1999.25 1004.44,2005.85" fill="#fff" stroke="#000" stroke-width="1.3" stroke-linejoin="round"/>
<polygon points="1016.42,1997.03 1023.02,1997.03 1019.72,2003.63" fill="#fff" stroke="#000" stroke-width="1.3" stroke-linejoin="round"/>
<polygon points="1031.14,1999.81 1037.74,1999.81 1034.44,2006.41" fill="#fff" stroke="#000" stroke-width="1.3" stroke-linejoin="round"/>
<polygon points="1008.64,2013.14 1015.24,2013.14 1011.94,2019.74" fill="#fff" stroke="#000" stroke-width="1.3" stroke-linejoin="round"/>
<polygon points="1023.37,2009.53 1029.97,2009.53 1026.67,2016.13" fill="#fff" stroke="#000" stroke-width="1.3" stroke-linejoin="round"/>
<polyline points="905.00,1886.00 905.00,1872.80 1017.78,1872.80 1017.78,1886.00" fill="none" stroke="#000" stroke-width="2.35"/>
<text x="960.80" y="1876.17" font-size="49" stroke="#000" stroke-width="0.7" stroke-linejoin="round">**</text>
</g>
<g id="panel_l">
<text x="0" y="0" font-size="41" transform="translate(1344.00 1845.80) scale(0.98 1)" stroke="#000" stroke-width="0.9" stroke-linejoin="round" text-anchor="start">l</text>
<text x="1405.50" y="1977.80" font-size="26.3" stroke="#000" stroke-width="0.6" stroke-linejoin="round" transform="rotate(-90 1405.50 1977.80)">Liver [pyruvate] level</text>
<text x="1437.50" y="1977.80" font-size="26.3" stroke="#000" stroke-width="0.6" stroke-linejoin="round" transform="rotate(-90 1437.50 1977.80)">(µmol/g tissue)</text>
<rect x="1534.90" y="2090.42" width="66.50" height="31.78" fill="#fff" stroke="#000" stroke-width="2.4"/>
<rect x="1641.20" y="1999.31" width="66.30" height="122.89" fill="#F93A82" stroke="#000" stroke-width="2.4"/>
<line x1="1568.15" y1="2082.50" x2="1568.15" y2="2094.44" stroke="#000" stroke-width="2.35"/>
<line x1="1550.15" y1="2082.50" x2="1586.15" y2="2082.50" stroke="#000" stroke-width="2.35"/>
<line x1="1550.15" y1="2094.44" x2="1586.15" y2="2094.44" stroke="#000" stroke-width="2.35"/>
<line x1="1674.35" y1="1976.94" x2="1674.35" y2="2018.89" stroke="#000" stroke-width="2.35"/>
<line x1="1656.35" y1="1976.94" x2="1692.35" y2="1976.94" stroke="#000" stroke-width="2.35"/>
<line x1="1656.35" y1="2018.89" x2="1692.35" y2="2018.89" stroke="#000" stroke-width="2.35"/>
<line x1="1497.60" y1="1873.23" x2="1497.60" y2="2123.38" stroke="#000" stroke-width="2.35"/>
<line x1="1487.60" y1="2122.20" x2="1744.80" y2="2122.20" stroke="#000" stroke-width="2.35"/>
<line x1="1487.60" y1="1874.40" x2="1497.60" y2="1874.40" stroke="#000" stroke-width="2.35"/>
<text x="1482.30" y="1883.50" font-size="26" stroke="#000" stroke-width="0.6" stroke-linejoin="round" text-anchor="end">1.5</text>
<line x1="1487.60" y1="1957.20" x2="1497.60" y2="1957.20" stroke="#000" stroke-width="2.35"/>
<text x="1482.30" y="1966.30" font-size="26" stroke="#000" stroke-width="0.6" stroke-linejoin="round" text-anchor="end">1.0</text>
<line x1="1487.60" y1="2039.70" x2="1497.60" y2="2039.70" stroke="#000" stroke-width="2.35"/>
<text x="1482.30" y="2048.80" font-size="26" stroke="#000" stroke-width="0.6" stroke-linejoin="round" text-anchor="end">0.5</text>
<line x1="1487.60" y1="2122.20" x2="1497.60" y2="2122.20" stroke="#000" stroke-width="2.35"/>
<text x="1482.30" y="2131.30" font-size="26" stroke="#000" stroke-width="0.6" stroke-linejoin="round" text-anchor="end">0.0</text>
<line x1="1568.15" y1="2122.20" x2="1568.15" y2="2132.20" stroke="#000" stroke-width="2.35"/>
<text x="1565.00" y="2158.30" font-size="22.8" stroke="#000" stroke-width="0.6" stroke-linejoin="round">Control</text>
<line x1="1674.35" y1="2122.20" x2="1674.35" y2="2132.20" stroke="#000" stroke-width="2.35"/>
<text x="1673.30" y="2158.30" font-size="22.8" stroke="#000" stroke-width="0.6" stroke-linejoin="round">L-Pck1KO</text>
<circle cx="1567.83" cy="2058.89" r="3.5" fill="#fff" stroke="#000" stroke-width="1.3"/>
<circle cx="1567.83" cy="2075.56" r="3.5" fill="#fff" stroke="#000" stroke-width="1.3"/>
<circle cx="1552.56" cy="2087.50" r="3.5" fill="#fff" stroke="#000" stroke-width="1.3"/>
<circle cx="1567.83" cy="2090.28" r="3.5" fill="#fff" stroke="#000" stroke-width="1.3"/>
<circle cx="1582.56" cy="2094.44" r="3.5" fill="#fff" stroke="#000" stroke-width="1.3"/>
<circle cx="1567.83" cy="2100.00" r="3.5" fill="#fff" stroke="#000" stroke-width="1.3"/>
<circle cx="1552.56" cy="2104.17" r="3.5" fill="#fff" stroke="#000" stroke-width="1.3"/>
<circle cx="1582.56" cy="2102.78" r="3.5" fill="#fff" stroke="#000" stroke-width="1.3"/>
<polygon points="1670.64,1912.31 1677.24,1912.31 1673.94,1918.91" fill="#fff" stroke="#000" stroke-width="1.3" stroke-linejoin="round"/>
<polygon points="1670.64,1936.75 1677.24,1936.75 1673.94,1943.35" fill="#fff" stroke="#000" stroke-width="1.3" stroke-linejoin="round"/>
<polygon points="1670.64,1974.81 1677.24,1974.81 1673.94,1981.41" fill="#fff" stroke="#000" stroke-width="1.3" stroke-linejoin="round"/>
<polygon points="1670.64,2011.47 1677.24,2011.47 1673.94,2018.07" fill="#fff" stroke="#000" stroke-width="1.3" stroke-linejoin="round"/>
<polygon points="1670.64,2028.14 1677.24,2028.14 1673.94,2034.74" fill="#fff" stroke="#000" stroke-width="1.3" stroke-linejoin="round"/>
<polygon points="1670.64,2039.25 1677.24,2039.25 1673.94,2045.85" fill="#fff" stroke="#000" stroke-width="1.3" stroke-linejoin="round"/>
<polygon points="1670.64,2056.75 1677.24,2056.75 1673.94,2063.35" fill="#fff" stroke="#000" stroke-width="1.3" stroke-linejoin="round"/>
<polyline points="1567.00,1901.40 1567.00,1886.70 1674.22,1886.70 1674.22,1901.40" fill="none" stroke="#000" stroke-width="2.35"/>
<text x="1620.60" y="1890.07" font-size="49" stroke="#000" stroke-width="0.7" stroke-linejoin="round">**</text>
</g>
<g id="panel_m">
<text x="0" y="0" font-size="41" transform="translate(4.00 2183.40) scale(0.98 1)" stroke="#000" stroke-width="0.9" stroke-linejoin="round" text-anchor="start">m</text>
<text x="133.00" y="2327.00" font-size="26.3" stroke="#000" stroke-width="0.6" stroke-linejoin="round" transform="rotate(-90 133.00 2327.00)">Liver [NADH]/[NAD<tspan font-size="17" dy="-10">+</tspan><tspan dy="10">] ratio</tspan></text>
<rect x="229.00" y="2369.64" width="65.60" height="99.26" fill="#fff" stroke="#000" stroke-width="2.4"/>
<rect x="333.20" y="2380.76" width="65.60" height="88.14" fill="#8FE1FA" stroke="#000" stroke-width="2.4"/>
<line x1="261.80" y1="2340.33" x2="261.80" y2="2395.89" stroke="#000" stroke-width="2.35"/>
<line x1="243.80" y1="2340.33" x2="279.80" y2="2340.33" stroke="#000" stroke-width="2.35"/>
<line x1="243.80" y1="2395.89" x2="279.80" y2="2395.89" stroke="#000" stroke-width="2.35"/>
<line x1="366.00" y1="2360.61" x2="366.00" y2="2397.83" stroke="#000" stroke-width="2.35"/>
<line x1="348.00" y1="2360.61" x2="384.00" y2="2360.61" stroke="#000" stroke-width="2.35"/>
<line x1="348.00" y1="2397.83" x2="384.00" y2="2397.83" stroke="#000" stroke-width="2.35"/>
<line x1="192.50" y1="2221.92" x2="192.50" y2="2470.08" stroke="#000" stroke-width="2.35"/>
<line x1="182.50" y1="2468.90" x2="436.00" y2="2468.90" stroke="#000" stroke-width="2.35"/>
<line x1="182.50" y1="2223.10" x2="192.50" y2="2223.10" stroke="#000" stroke-width="2.35"/>
<text x="177.20" y="2232.20" font-size="26" stroke="#000" stroke-width="0.6" stroke-linejoin="round" text-anchor="end">0.8</text>
<line x1="182.50" y1="2284.80" x2="192.50" y2="2284.80" stroke="#000" stroke-width="2.35"/>
<text x="177.20" y="2293.90" font-size="26" stroke="#000" stroke-width="0.6" stroke-linejoin="round" text-anchor="end">0.6</text>
<line x1="182.50" y1="2346.20" x2="192.50" y2="2346.20" stroke="#000" stroke-width="2.35"/>
<text x="177.20" y="2355.30" font-size="26" stroke="#000" stroke-width="0.6" stroke-linejoin="round" text-anchor="end">0.4</text>
<line x1="182.50" y1="2407.60" x2="192.50" y2="2407.60" stroke="#000" stroke-width="2.35"/>
<text x="177.20" y="2416.70" font-size="26" stroke="#000" stroke-width="0.6" stroke-linejoin="round" text-anchor="end">0.2</text>
<line x1="182.50" y1="2468.90" x2="192.50" y2="2468.90" stroke="#000" stroke-width="2.35"/>
<text x="177.20" y="2478.00" font-size="26" stroke="#000" stroke-width="0.6" stroke-linejoin="round" text-anchor="end">0.0</text>
<line x1="261.80" y1="2468.90" x2="261.80" y2="2478.90" stroke="#000" stroke-width="2.35"/>
<text x="261.00" y="2504.20" font-size="22.8" stroke="#000" stroke-width="0.6" stroke-linejoin="round">Control</text>
<line x1="366.00" y1="2468.90" x2="366.00" y2="2478.90" stroke="#000" stroke-width="2.35"/>
<text x="366.70" y="2504.20" font-size="22.8" stroke="#000" stroke-width="0.6" stroke-linejoin="round">L-GykKO</text>
<circle cx="261.94" cy="2279.22" r="3.5" fill="#fff" stroke="#000" stroke-width="1.3"/>
<circle cx="261.94" cy="2342.28" r="3.5" fill="#fff" stroke="#000" stroke-width="1.3"/>
<circle cx="254.17" cy="2385.61" r="3.5" fill="#fff" stroke="#000" stroke-width="1.3"/>
<circle cx="268.89" cy="2390.89" r="3.5" fill="#fff" stroke="#000" stroke-width="1.3"/>
<circle cx="261.94" cy="2445.06" r="3.5" fill="#fff" stroke="#000" stroke-width="1.3"/>
<polygon points="363.37,2312.75 369.97,2312.75 366.67,2306.15" fill="#fff" stroke="#000" stroke-width="1.3" stroke-linejoin="round"/>
<polygon points="363.37,2349.69 369.97,2349.69 366.67,2343.09" fill="#fff" stroke="#000" stroke-width="1.3" stroke-linejoin="round"/>
<polygon points="355.87,2359.41 362.47,2359.41 359.17,2352.81" fill="#fff" stroke="#000" stroke-width="1.3" stroke-linejoin="round"/>
<polygon points="370.87,2364.14 377.47,2364.14 374.17,2357.54" fill="#fff" stroke="#000" stroke-width="1.3" stroke-linejoin="round"/>
<polygon points="355.87,2421.08 362.47,2421.08 359.17,2414.48" fill="#fff" stroke="#000" stroke-width="1.3" stroke-linejoin="round"/>
<polygon points="370.87,2426.08 377.47,2426.08 374.17,2419.48" fill="#fff" stroke="#000" stroke-width="1.3" stroke-linejoin="round"/>
<polygon points="363.37,2446.08 369.97,2446.08 366.67,2439.48" fill="#fff" stroke="#000" stroke-width="1.3" stroke-linejoin="round"/>
<polyline points="261.11,2265.30 261.11,2250.60 366.67,2250.60 366.67,2265.30" fill="none" stroke="#000" stroke-width="2.35"/>
<text x="313.90" y="2237.60" font-size="27.8" stroke="#000" stroke-width="0.4" stroke-linejoin="round" font-weight="normal">ns</text>
</g>
<g id="panel_n">
<text x="0" y="0" font-size="41" transform="translate(680.00 2183.40) scale(0.98 1)" stroke="#000" stroke-width="0.9" stroke-linejoin="round" text-anchor="start">n</text>
<text x="753.00" y="2330.60" font-size="26.3" stroke="#000" stroke-width="0.6" stroke-linejoin="round" transform="rotate(-90 753.00 2330.60)">Liver [Lactate] level</text>
<text x="784.00" y="2330.60" font-size="26.3" stroke="#000" stroke-width="0.6" stroke-linejoin="round" transform="rotate(-90 784.00 2330.60)">(µmol/g tissue)</text>
<rect x="881.50" y="2333.53" width="65.60" height="135.37" fill="#fff" stroke="#000" stroke-width="2.4"/>
<rect x="986.80" y="2356.87" width="65.60" height="112.03" fill="#8FE1FA" stroke="#000" stroke-width="2.4"/>
<line x1="914.30" y1="2311.17" x2="914.30" y2="2353.39" stroke="#000" stroke-width="2.35"/>
<line x1="896.30" y1="2311.17" x2="932.30" y2="2311.17" stroke="#000" stroke-width="2.35"/>
<line x1="896.30" y1="2353.39" x2="932.30" y2="2353.39" stroke="#000" stroke-width="2.35"/>
<line x1="1019.60" y1="2345.89" x2="1019.60" y2="2364.78" stroke="#000" stroke-width="2.35"/>
<line x1="1001.60" y1="2345.89" x2="1037.60" y2="2345.89" stroke="#000" stroke-width="2.35"/>
<line x1="1001.60" y1="2364.78" x2="1037.60" y2="2364.78" stroke="#000" stroke-width="2.35"/>
<line x1="844.70" y1="2221.92" x2="844.70" y2="2470.08" stroke="#000" stroke-width="2.35"/>
<line x1="834.70" y1="2468.90" x2="1090.00" y2="2468.90" stroke="#000" stroke-width="2.35"/>
<line x1="834.70" y1="2223.10" x2="844.70" y2="2223.10" stroke="#000" stroke-width="2.35"/>
<text x="829.40" y="2232.20" font-size="26" stroke="#000" stroke-width="0.6" stroke-linejoin="round" text-anchor="end">0.8</text>
<line x1="834.70" y1="2284.80" x2="844.70" y2="2284.80" stroke="#000" stroke-width="2.35"/>
<text x="829.40" y="2293.90" font-size="26" stroke="#000" stroke-width="0.6" stroke-linejoin="round" text-anchor="end">0.6</text>
<line x1="834.70" y1="2346.20" x2="844.70" y2="2346.20" stroke="#000" stroke-width="2.35"/>
<text x="829.40" y="2355.30" font-size="26" stroke="#000" stroke-width="0.6" stroke-linejoin="round" text-anchor="end">0.4</text>
<line x1="834.70" y1="2407.60" x2="844.70" y2="2407.60" stroke="#000" stroke-width="2.35"/>
<text x="829.40" y="2416.70" font-size="26" stroke="#000" stroke-width="0.6" stroke-linejoin="round" text-anchor="end">0.2</text>
<line x1="834.70" y1="2468.90" x2="844.70" y2="2468.90" stroke="#000" stroke-width="2.35"/>
<text x="829.40" y="2478.00" font-size="26" stroke="#000" stroke-width="0.6" stroke-linejoin="round" text-anchor="end">0.0</text>
<line x1="914.30" y1="2468.90" x2="914.30" y2="2478.90" stroke="#000" stroke-width="2.35"/>
<text x="914.00" y="2504.20" font-size="22.8" stroke="#000" stroke-width="0.6" stroke-linejoin="round">Control</text>
<line x1="1019.60" y1="2468.90" x2="1019.60" y2="2478.90" stroke="#000" stroke-width="2.35"/>
<text x="1019.00" y="2504.20" font-size="22.8" stroke="#000" stroke-width="0.6" stroke-linejoin="round">L-GykKO</text>
<circle cx="914.72" cy="2261.72" r="3.5" fill="#fff" stroke="#000" stroke-width="1.3"/>
<circle cx="914.72" cy="2309.78" r="3.5" fill="#fff" stroke="#000" stroke-width="1.3"/>
<circle cx="914.72" cy="2345.33" r="3.5" fill="#fff" stroke="#000" stroke-width="1.3"/>
<circle cx="907.22" cy="2373.11" r="3.5" fill="#fff" stroke="#000" stroke-width="1.3"/>
<circle cx="921.94" cy="2371.44" r="3.5" fill="#fff" stroke="#000" stroke-width="1.3"/>
<polygon points="1016.42,2327.19 1023.02,2327.19 1019.72,2320.59" fill="#fff" stroke="#000" stroke-width="1.3" stroke-linejoin="round"/>
<polygon points="1016.42,2337.75 1023.02,2337.75 1019.72,2331.15" fill="#fff" stroke="#000" stroke-width="1.3" stroke-linejoin="round"/>
<polygon points="1008.92,2350.25 1015.52,2350.25 1012.22,2343.65" fill="#fff" stroke="#000" stroke-width="1.3" stroke-linejoin="round"/>
<polygon points="1023.92,2355.80 1030.52,2355.80 1027.22,2349.20" fill="#fff" stroke="#000" stroke-width="1.3" stroke-linejoin="round"/>
<polygon points="1008.92,2366.91 1015.52,2366.91 1012.22,2360.31" fill="#fff" stroke="#000" stroke-width="1.3" stroke-linejoin="round"/>
<polygon points="1023.92,2371.91 1030.52,2371.91 1027.22,2365.31" fill="#fff" stroke="#000" stroke-width="1.3" stroke-linejoin="round"/>
<polygon points="1016.42,2403.03 1023.02,2403.03 1019.72,2396.43" fill="#fff" stroke="#000" stroke-width="1.3" stroke-linejoin="round"/>
<polyline points="914.17,2247.30 914.17,2232.60 1019.17,2232.60 1019.17,2247.30" fill="none" stroke="#000" stroke-width="2.35"/>
<text x="967.00" y="2219.50" font-size="27.8" stroke="#000" stroke-width="0.4" stroke-linejoin="round" font-weight="normal">ns</text>
</g>
<g id="panel_o">
<text x="0" y="0" font-size="41" transform="translate(1332.00 2187.60) scale(0.98 1)" stroke="#000" stroke-width="0.9" stroke-linejoin="round" text-anchor="start">o</text>
<text x="1385.00" y="2323.70" font-size="26.3" stroke="#000" stroke-width="0.6" stroke-linejoin="round" transform="rotate(-90 1385.00 2323.70)">Liver [Pyruvate] level</text>
<text x="1417.00" y="2323.70" font-size="26.3" stroke="#000" stroke-width="0.6" stroke-linejoin="round" transform="rotate(-90 1417.00 2323.70)">(µmol/g tissue)</text>
<rect x="1531.50" y="2339.09" width="65.70" height="129.31" fill="#fff" stroke="#000" stroke-width="2.4"/>
<rect x="1638.50" y="2322.42" width="65.60" height="145.98" fill="#8FE1FA" stroke="#000" stroke-width="2.4"/>
<line x1="1564.35" y1="2308.94" x2="1564.35" y2="2366.72" stroke="#000" stroke-width="2.35"/>
<line x1="1546.35" y1="2308.94" x2="1582.35" y2="2308.94" stroke="#000" stroke-width="2.35"/>
<line x1="1546.35" y1="2366.72" x2="1582.35" y2="2366.72" stroke="#000" stroke-width="2.35"/>
<line x1="1671.30" y1="2304.78" x2="1671.30" y2="2337.56" stroke="#000" stroke-width="2.35"/>
<line x1="1653.30" y1="2304.78" x2="1689.30" y2="2304.78" stroke="#000" stroke-width="2.35"/>
<line x1="1653.30" y1="2337.56" x2="1689.30" y2="2337.56" stroke="#000" stroke-width="2.35"/>
<line x1="1494.20" y1="2218.62" x2="1494.20" y2="2469.58" stroke="#000" stroke-width="2.35"/>
<line x1="1484.20" y1="2468.40" x2="1742.00" y2="2468.40" stroke="#000" stroke-width="2.35"/>
<line x1="1484.20" y1="2219.80" x2="1494.20" y2="2219.80" stroke="#000" stroke-width="2.35"/>
<text x="1478.90" y="2228.90" font-size="26" stroke="#000" stroke-width="0.6" stroke-linejoin="round" text-anchor="end">0.25</text>
<line x1="1484.20" y1="2269.50" x2="1494.20" y2="2269.50" stroke="#000" stroke-width="2.35"/>
<text x="1478.90" y="2278.60" font-size="26" stroke="#000" stroke-width="0.6" stroke-linejoin="round" text-anchor="end">0.20</text>
<line x1="1484.20" y1="2319.00" x2="1494.20" y2="2319.00" stroke="#000" stroke-width="2.35"/>
<text x="1478.90" y="2328.10" font-size="26" stroke="#000" stroke-width="0.6" stroke-linejoin="round" text-anchor="end">0.15</text>
<line x1="1484.20" y1="2368.70" x2="1494.20" y2="2368.70" stroke="#000" stroke-width="2.35"/>
<text x="1478.90" y="2377.80" font-size="26" stroke="#000" stroke-width="0.6" stroke-linejoin="round" text-anchor="end">0.10</text>
<line x1="1484.20" y1="2418.40" x2="1494.20" y2="2418.40" stroke="#000" stroke-width="2.35"/>
<text x="1478.90" y="2427.50" font-size="26" stroke="#000" stroke-width="0.6" stroke-linejoin="round" text-anchor="end">0.05</text>
<line x1="1484.20" y1="2468.40" x2="1494.20" y2="2468.40" stroke="#000" stroke-width="2.35"/>
<text x="1478.90" y="2477.50" font-size="26" stroke="#000" stroke-width="0.6" stroke-linejoin="round" text-anchor="end">0.00</text>
<line x1="1564.35" y1="2468.40" x2="1564.35" y2="2478.40" stroke="#000" stroke-width="2.35"/>
<text x="1564.50" y="2504.20" font-size="22.8" stroke="#000" stroke-width="0.6" stroke-linejoin="round">Control</text>
<line x1="1671.30" y1="2468.40" x2="1671.30" y2="2478.40" stroke="#000" stroke-width="2.35"/>
<text x="1671.00" y="2504.20" font-size="22.8" stroke="#000" stroke-width="0.6" stroke-linejoin="round">L-GykKO</text>
<circle cx="1564.50" cy="2233.67" r="3.5" fill="#fff" stroke="#000" stroke-width="1.3"/>
<circle cx="1564.50" cy="2337.56" r="3.5" fill="#fff" stroke="#000" stroke-width="1.3"/>
<circle cx="1564.50" cy="2345.33" r="3.5" fill="#fff" stroke="#000" stroke-width="1.3"/>
<circle cx="1564.50" cy="2366.72" r="3.5" fill="#fff" stroke="#000" stroke-width="1.3"/>
<circle cx="1564.50" cy="2406.44" r="3.5" fill="#fff" stroke="#000" stroke-width="1.3"/>
<polygon points="1667.87,2235.53 1674.47,2235.53 1671.17,2228.93" fill="#fff" stroke="#000" stroke-width="1.3" stroke-linejoin="round"/>
<polygon points="1660.37,2323.30 1666.97,2323.30 1663.67,2316.70" fill="#fff" stroke="#000" stroke-width="1.3" stroke-linejoin="round"/>
<polygon points="1675.09,2318.30 1681.69,2318.30 1678.39,2311.70" fill="#fff" stroke="#000" stroke-width="1.3" stroke-linejoin="round"/>
<polygon points="1675.09,2326.08 1681.69,2326.08 1678.39,2319.48" fill="#fff" stroke="#000" stroke-width="1.3" stroke-linejoin="round"/>
<polygon points="1660.37,2351.64 1666.97,2351.64 1663.67,2345.04" fill="#fff" stroke="#000" stroke-width="1.3" stroke-linejoin="round"/>
<polygon points="1675.09,2355.80 1681.69,2355.80 1678.39,2349.20" fill="#fff" stroke="#000" stroke-width="1.3" stroke-linejoin="round"/>
<polygon points="1667.87,2363.30 1674.47,2363.30 1671.17,2356.70" fill="#fff" stroke="#000" stroke-width="1.3" stroke-linejoin="round"/>
<polyline points="1564.50,2216.70 1564.50,2202.80 1671.17,2202.80 1671.17,2216.70" fill="none" stroke="#000" stroke-width="2.35"/>
<text x="1617.00" y="2189.00" font-size="27.8" stroke="#000" stroke-width="0.4" stroke-linejoin="round" font-weight="normal">ns</text>
</g>
</svg>
</body></html>
